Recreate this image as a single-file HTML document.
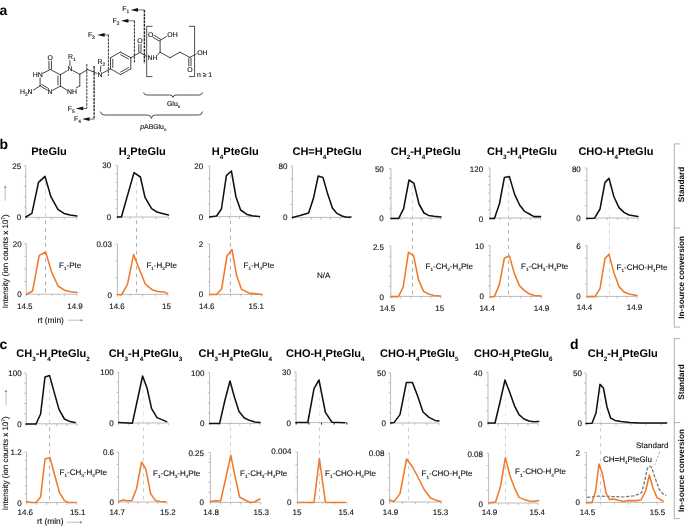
<!DOCTYPE html>
<html><head><meta charset="utf-8"><title>Figure</title><style>html,body{margin:0;padding:0;background:#fff}svg{display:block}</style></head><body>
<svg width="685" height="527" viewBox="0 0 685 527" text-rendering="geometricPrecision" font-family='"Liberation Sans", Arial, sans-serif'>
<rect width="685" height="527" fill="#fff"/>
<text x="-0.40" y="15.20" font-size="14.00" text-anchor="start" font-weight="bold" fill="#000" ><tspan dy="0.00" font-size="14.00">a</tspan></text>
<text x="-0.40" y="148.60" font-size="14.00" text-anchor="start" font-weight="bold" fill="#000" ><tspan dy="0.00" font-size="14.00">b</tspan></text>
<text x="-0.40" y="348.60" font-size="14.00" text-anchor="start" font-weight="bold" fill="#000" ><tspan dy="0.00" font-size="14.00">c</tspan></text>
<text x="570.10" y="348.60" font-size="14.00" text-anchor="start" font-weight="bold" fill="#000" ><tspan dy="0.00" font-size="14.00">d</tspan></text>
<text x="49.00" y="155.20" font-size="11.00" text-anchor="middle" font-weight="bold" fill="#000" ><tspan dy="0.00" font-size="11.00">PteGlu</tspan></text>
<text x="142.30" y="155.20" font-size="11.00" text-anchor="middle" font-weight="bold" fill="#000" ><tspan dy="0.00" font-size="11.00">H</tspan><tspan dy="3.41" font-size="6.30">2</tspan><tspan dy="-3.41" font-size="11.00">PteGlu</tspan></text>
<text x="235.30" y="155.20" font-size="11.00" text-anchor="middle" font-weight="bold" fill="#000" ><tspan dy="0.00" font-size="11.00">H</tspan><tspan dy="3.41" font-size="6.30">4</tspan><tspan dy="-3.41" font-size="11.00">PteGlu</tspan></text>
<text x="327.10" y="155.20" font-size="11.00" text-anchor="middle" font-weight="bold" fill="#000" ><tspan dy="0.00" font-size="11.00">CH=H</tspan><tspan dy="3.41" font-size="6.30">4</tspan><tspan dy="-3.41" font-size="11.00">PteGlu</tspan></text>
<text x="425.80" y="155.20" font-size="11.00" text-anchor="middle" font-weight="bold" fill="#000" ><tspan dy="0.00" font-size="11.00">CH</tspan><tspan dy="3.41" font-size="6.30">2</tspan><tspan dy="-3.41" font-size="11.00">-H</tspan><tspan dy="3.41" font-size="6.30">4</tspan><tspan dy="-3.41" font-size="11.00">PteGlu</tspan></text>
<text x="522.00" y="155.20" font-size="11.00" text-anchor="middle" font-weight="bold" fill="#000" ><tspan dy="0.00" font-size="11.00">CH</tspan><tspan dy="3.41" font-size="6.30">3</tspan><tspan dy="-3.41" font-size="11.00">-H</tspan><tspan dy="3.41" font-size="6.30">4</tspan><tspan dy="-3.41" font-size="11.00">PteGlu</tspan></text>
<text x="615.90" y="155.20" font-size="11.00" text-anchor="middle" font-weight="bold" fill="#000" ><tspan dy="0.00" font-size="11.00">CHO-H</tspan><tspan dy="3.41" font-size="6.30">4</tspan><tspan dy="-3.41" font-size="11.00">PteGlu</tspan></text>
<text x="53.00" y="357.30" font-size="11.00" text-anchor="middle" font-weight="bold" fill="#000" ><tspan dy="0.00" font-size="11.00">CH</tspan><tspan dy="3.41" font-size="6.30">3</tspan><tspan dy="-3.41" font-size="11.00">-H</tspan><tspan dy="3.41" font-size="6.30">4</tspan><tspan dy="-3.41" font-size="11.00">PteGlu</tspan><tspan dy="3.41" font-size="6.30">2</tspan></text>
<text x="145.40" y="357.30" font-size="11.00" text-anchor="middle" font-weight="bold" fill="#000" ><tspan dy="0.00" font-size="11.00">CH</tspan><tspan dy="3.41" font-size="6.30">3</tspan><tspan dy="-3.41" font-size="11.00">-H</tspan><tspan dy="3.41" font-size="6.30">4</tspan><tspan dy="-3.41" font-size="11.00">PteGlu</tspan><tspan dy="3.41" font-size="6.30">3</tspan></text>
<text x="235.30" y="357.30" font-size="11.00" text-anchor="middle" font-weight="bold" fill="#000" ><tspan dy="0.00" font-size="11.00">CH</tspan><tspan dy="3.41" font-size="6.30">3</tspan><tspan dy="-3.41" font-size="11.00">-H</tspan><tspan dy="3.41" font-size="6.30">4</tspan><tspan dy="-3.41" font-size="11.00">PteGlu</tspan><tspan dy="3.41" font-size="6.30">4</tspan></text>
<text x="325.30" y="357.30" font-size="11.00" text-anchor="middle" font-weight="bold" fill="#000" ><tspan dy="0.00" font-size="11.00">CHO-H</tspan><tspan dy="3.41" font-size="6.30">4</tspan><tspan dy="-3.41" font-size="11.00">PteGlu</tspan><tspan dy="3.41" font-size="6.30">4</tspan></text>
<text x="419.30" y="357.30" font-size="11.00" text-anchor="middle" font-weight="bold" fill="#000" ><tspan dy="0.00" font-size="11.00">CHO-H</tspan><tspan dy="3.41" font-size="6.30">4</tspan><tspan dy="-3.41" font-size="11.00">PteGlu</tspan><tspan dy="3.41" font-size="6.30">5</tspan></text>
<text x="513.30" y="357.30" font-size="11.00" text-anchor="middle" font-weight="bold" fill="#000" ><tspan dy="0.00" font-size="11.00">CHO-H</tspan><tspan dy="3.41" font-size="6.30">4</tspan><tspan dy="-3.41" font-size="11.00">PteGlu</tspan><tspan dy="3.41" font-size="6.30">6</tspan></text>
<text x="622.80" y="357.30" font-size="11.00" text-anchor="middle" font-weight="bold" fill="#000" ><tspan dy="0.00" font-size="11.00">CH</tspan><tspan dy="3.41" font-size="6.30">2</tspan><tspan dy="-3.41" font-size="11.00">-H</tspan><tspan dy="3.41" font-size="6.30">4</tspan><tspan dy="-3.41" font-size="11.00">PteGlu</tspan></text>
<line x1="45.50" y1="292.50" x2="45.50" y2="178.00" stroke="#6a6a6a" stroke-width="0.55" stroke-linecap="butt" stroke-dasharray="3.7 3.9"/>
<line x1="45.50" y1="177.00" x2="45.50" y2="217.50" stroke="#fff" stroke-width="1.60" stroke-linecap="butt" opacity="0.5"/>
<line x1="25.80" y1="165.80" x2="25.80" y2="217.80" stroke="#a9a9a9" stroke-width="0.80" stroke-linecap="butt"/>
<line x1="25.40" y1="217.40" x2="77.00" y2="217.40" stroke="#a9a9a9" stroke-width="0.80" stroke-linecap="butt"/>
<line x1="23.80" y1="165.80" x2="25.80" y2="165.80" stroke="#a9a9a9" stroke-width="0.70" stroke-linecap="butt"/>
<line x1="23.80" y1="176.12" x2="25.80" y2="176.12" stroke="#a9a9a9" stroke-width="0.70" stroke-linecap="butt"/>
<line x1="23.80" y1="186.44" x2="25.80" y2="186.44" stroke="#a9a9a9" stroke-width="0.70" stroke-linecap="butt"/>
<line x1="23.80" y1="196.76" x2="25.80" y2="196.76" stroke="#a9a9a9" stroke-width="0.70" stroke-linecap="butt"/>
<line x1="23.80" y1="207.08" x2="25.80" y2="207.08" stroke="#a9a9a9" stroke-width="0.70" stroke-linecap="butt"/>
<line x1="25.80" y1="217.40" x2="25.80" y2="219.60" stroke="#a9a9a9" stroke-width="0.70" stroke-linecap="butt"/>
<line x1="38.60" y1="217.40" x2="38.60" y2="219.60" stroke="#a9a9a9" stroke-width="0.70" stroke-linecap="butt"/>
<line x1="51.40" y1="217.40" x2="51.40" y2="219.60" stroke="#a9a9a9" stroke-width="0.70" stroke-linecap="butt"/>
<line x1="64.20" y1="217.40" x2="64.20" y2="219.60" stroke="#a9a9a9" stroke-width="0.70" stroke-linecap="butt"/>
<line x1="77.00" y1="217.40" x2="77.00" y2="219.60" stroke="#a9a9a9" stroke-width="0.70" stroke-linecap="butt"/>
<polyline points="25.8,217.0 31.9,213.4 38.5,182.4 45.0,176.4 50.9,196.7 57.9,209.4 64.0,213.4 70.2,215.1 76.9,216.0" fill="none" stroke="#111" stroke-width="1.55" stroke-linejoin="round" stroke-linecap="round"/>
<text x="21.20" y="168.90" font-size="8.00" text-anchor="end" font-weight="normal" fill="#111"  stroke="#111" stroke-width="0.12"><tspan dy="0.00" font-size="8.00">25</tspan></text>
<text x="21.20" y="220.44" font-size="8.00" text-anchor="end" font-weight="normal" fill="#111"  stroke="#111" stroke-width="0.12"><tspan dy="0.00" font-size="8.00">0</tspan></text>
<line x1="26.20" y1="243.60" x2="26.20" y2="294.60" stroke="#a9a9a9" stroke-width="0.80" stroke-linecap="butt"/>
<line x1="25.80" y1="294.20" x2="77.00" y2="294.20" stroke="#a9a9a9" stroke-width="0.80" stroke-linecap="butt"/>
<line x1="24.20" y1="243.60" x2="26.20" y2="243.60" stroke="#a9a9a9" stroke-width="0.70" stroke-linecap="butt"/>
<line x1="24.20" y1="256.25" x2="26.20" y2="256.25" stroke="#a9a9a9" stroke-width="0.70" stroke-linecap="butt"/>
<line x1="24.20" y1="268.90" x2="26.20" y2="268.90" stroke="#a9a9a9" stroke-width="0.70" stroke-linecap="butt"/>
<line x1="24.20" y1="281.55" x2="26.20" y2="281.55" stroke="#a9a9a9" stroke-width="0.70" stroke-linecap="butt"/>
<line x1="26.20" y1="294.20" x2="26.20" y2="296.40" stroke="#a9a9a9" stroke-width="0.70" stroke-linecap="butt"/>
<line x1="38.90" y1="294.20" x2="38.90" y2="296.40" stroke="#a9a9a9" stroke-width="0.70" stroke-linecap="butt"/>
<line x1="51.60" y1="294.20" x2="51.60" y2="296.40" stroke="#a9a9a9" stroke-width="0.70" stroke-linecap="butt"/>
<line x1="64.30" y1="294.20" x2="64.30" y2="296.40" stroke="#a9a9a9" stroke-width="0.70" stroke-linecap="butt"/>
<line x1="77.00" y1="294.20" x2="77.00" y2="296.40" stroke="#a9a9a9" stroke-width="0.70" stroke-linecap="butt"/>
<polyline points="26.6,294.2 32.6,291.0 39.2,255.4 45.6,252.0 51.6,272.0 58.0,286.0 64.4,290.2 70.6,291.8 77.0,292.4" fill="none" stroke="#ee7a2c" stroke-width="1.55" stroke-linejoin="round" stroke-linecap="round"/>
<text x="21.60" y="246.70" font-size="8.00" text-anchor="end" font-weight="normal" fill="#111"  stroke="#111" stroke-width="0.12"><tspan dy="0.00" font-size="8.00">20</tspan></text>
<text x="21.60" y="297.24" font-size="8.00" text-anchor="end" font-weight="normal" fill="#111"  stroke="#111" stroke-width="0.12"><tspan dy="0.00" font-size="8.00">0</tspan></text>
<text x="24.80" y="308.60" font-size="8.00" text-anchor="middle" font-weight="normal" fill="#111"  stroke="#111" stroke-width="0.12"><tspan dy="0.00" font-size="8.00">14.5</tspan></text>
<text x="75.00" y="308.60" font-size="8.00" text-anchor="middle" font-weight="normal" fill="#111"  stroke="#111" stroke-width="0.12"><tspan dy="0.00" font-size="8.00">14.9</tspan></text>
<text x="59.00" y="267.60" font-size="8.00" text-anchor="start" font-weight="normal" fill="#111"  stroke="#111" stroke-width="0.12"><tspan dy="0.00" font-size="8.00">F</tspan><tspan dy="2.32" font-size="4.64">1</tspan><tspan dy="-2.32" font-size="8.00">-Pte</tspan></text>
<line x1="136.50" y1="292.50" x2="136.50" y2="178.00" stroke="#6a6a6a" stroke-width="0.55" stroke-linecap="butt" stroke-dasharray="3.7 3.9"/>
<line x1="136.50" y1="177.00" x2="136.50" y2="217.50" stroke="#fff" stroke-width="1.60" stroke-linecap="butt" opacity="0.5"/>
<line x1="117.40" y1="165.20" x2="117.40" y2="217.40" stroke="#a9a9a9" stroke-width="0.80" stroke-linecap="butt"/>
<line x1="117.00" y1="217.00" x2="168.40" y2="217.00" stroke="#a9a9a9" stroke-width="0.80" stroke-linecap="butt"/>
<line x1="115.40" y1="165.20" x2="117.40" y2="165.20" stroke="#a9a9a9" stroke-width="0.70" stroke-linecap="butt"/>
<line x1="115.40" y1="173.83" x2="117.40" y2="173.83" stroke="#a9a9a9" stroke-width="0.70" stroke-linecap="butt"/>
<line x1="115.40" y1="182.47" x2="117.40" y2="182.47" stroke="#a9a9a9" stroke-width="0.70" stroke-linecap="butt"/>
<line x1="115.40" y1="191.10" x2="117.40" y2="191.10" stroke="#a9a9a9" stroke-width="0.70" stroke-linecap="butt"/>
<line x1="115.40" y1="199.73" x2="117.40" y2="199.73" stroke="#a9a9a9" stroke-width="0.70" stroke-linecap="butt"/>
<line x1="115.40" y1="208.37" x2="117.40" y2="208.37" stroke="#a9a9a9" stroke-width="0.70" stroke-linecap="butt"/>
<line x1="117.40" y1="217.00" x2="117.40" y2="219.20" stroke="#a9a9a9" stroke-width="0.70" stroke-linecap="butt"/>
<line x1="130.15" y1="217.00" x2="130.15" y2="219.20" stroke="#a9a9a9" stroke-width="0.70" stroke-linecap="butt"/>
<line x1="142.90" y1="217.00" x2="142.90" y2="219.20" stroke="#a9a9a9" stroke-width="0.70" stroke-linecap="butt"/>
<line x1="155.65" y1="217.00" x2="155.65" y2="219.20" stroke="#a9a9a9" stroke-width="0.70" stroke-linecap="butt"/>
<line x1="168.40" y1="217.00" x2="168.40" y2="219.20" stroke="#a9a9a9" stroke-width="0.70" stroke-linecap="butt"/>
<polyline points="117.4,217.0 121.4,217.0 134.0,172.6 140.4,177.0 145.0,197.4 151.6,208.6 157.0,212.0 162.4,213.6 168.4,215.0" fill="none" stroke="#111" stroke-width="1.55" stroke-linejoin="round" stroke-linecap="round"/>
<text x="111.20" y="168.30" font-size="8.00" text-anchor="end" font-weight="normal" fill="#111"  stroke="#111" stroke-width="0.12"><tspan dy="0.00" font-size="8.00">30</tspan></text>
<text x="111.20" y="220.04" font-size="8.00" text-anchor="end" font-weight="normal" fill="#111"  stroke="#111" stroke-width="0.12"><tspan dy="0.00" font-size="8.00">0</tspan></text>
<line x1="117.40" y1="244.00" x2="117.40" y2="294.80" stroke="#a9a9a9" stroke-width="0.80" stroke-linecap="butt"/>
<line x1="117.00" y1="294.40" x2="168.00" y2="294.40" stroke="#a9a9a9" stroke-width="0.80" stroke-linecap="butt"/>
<line x1="115.40" y1="244.00" x2="117.40" y2="244.00" stroke="#a9a9a9" stroke-width="0.70" stroke-linecap="butt"/>
<line x1="115.40" y1="260.80" x2="117.40" y2="260.80" stroke="#a9a9a9" stroke-width="0.70" stroke-linecap="butt"/>
<line x1="115.40" y1="277.60" x2="117.40" y2="277.60" stroke="#a9a9a9" stroke-width="0.70" stroke-linecap="butt"/>
<line x1="117.40" y1="294.40" x2="117.40" y2="296.60" stroke="#a9a9a9" stroke-width="0.70" stroke-linecap="butt"/>
<line x1="130.05" y1="294.40" x2="130.05" y2="296.60" stroke="#a9a9a9" stroke-width="0.70" stroke-linecap="butt"/>
<line x1="142.70" y1="294.40" x2="142.70" y2="296.60" stroke="#a9a9a9" stroke-width="0.70" stroke-linecap="butt"/>
<line x1="155.35" y1="294.40" x2="155.35" y2="296.60" stroke="#a9a9a9" stroke-width="0.70" stroke-linecap="butt"/>
<line x1="168.00" y1="294.40" x2="168.00" y2="296.60" stroke="#a9a9a9" stroke-width="0.70" stroke-linecap="butt"/>
<polyline points="117.4,294.4 121.4,295.0 127.4,284.6 133.6,254.6 139.6,270.0 145.4,284.2 151.6,289.4 157.6,291.4 164.0,292.0 167.6,293.4" fill="none" stroke="#ee7a2c" stroke-width="1.55" stroke-linejoin="round" stroke-linecap="round"/>
<text x="112.00" y="247.40" font-size="8.00" text-anchor="end" font-weight="normal" fill="#111"  stroke="#111" stroke-width="0.12"><tspan dy="0.00" font-size="8.00">0.03</tspan></text>
<text x="112.00" y="297.65" font-size="8.00" text-anchor="end" font-weight="normal" fill="#111"  stroke="#111" stroke-width="0.12"><tspan dy="0.00" font-size="8.00">0</tspan></text>
<text x="117.00" y="308.60" font-size="8.00" text-anchor="middle" font-weight="normal" fill="#111"  stroke="#111" stroke-width="0.12"><tspan dy="0.00" font-size="8.00">14.6</tspan></text>
<text x="166.50" y="308.60" font-size="8.00" text-anchor="middle" font-weight="normal" fill="#111"  stroke="#111" stroke-width="0.12"><tspan dy="0.00" font-size="8.00">15</tspan></text>
<text x="146.40" y="267.60" font-size="8.00" text-anchor="start" font-weight="normal" fill="#111"  stroke="#111" stroke-width="0.12"><tspan dy="0.00" font-size="8.00">F</tspan><tspan dy="2.32" font-size="4.64">1</tspan><tspan dy="-2.32" font-size="8.00">-H</tspan><tspan dy="2.32" font-size="4.64">2</tspan><tspan dy="-2.32" font-size="8.00">Pte</tspan></text>
<line x1="230.50" y1="292.50" x2="230.50" y2="172.00" stroke="#6a6a6a" stroke-width="0.55" stroke-linecap="butt" stroke-dasharray="3.7 3.9"/>
<line x1="230.50" y1="171.00" x2="230.50" y2="217.50" stroke="#fff" stroke-width="1.60" stroke-linecap="butt" opacity="0.5"/>
<line x1="209.60" y1="166.00" x2="209.60" y2="217.00" stroke="#a9a9a9" stroke-width="0.80" stroke-linecap="butt"/>
<line x1="209.20" y1="216.60" x2="259.40" y2="216.60" stroke="#a9a9a9" stroke-width="0.80" stroke-linecap="butt"/>
<line x1="207.60" y1="166.00" x2="209.60" y2="166.00" stroke="#a9a9a9" stroke-width="0.70" stroke-linecap="butt"/>
<line x1="207.60" y1="178.65" x2="209.60" y2="178.65" stroke="#a9a9a9" stroke-width="0.70" stroke-linecap="butt"/>
<line x1="207.60" y1="191.30" x2="209.60" y2="191.30" stroke="#a9a9a9" stroke-width="0.70" stroke-linecap="butt"/>
<line x1="207.60" y1="203.95" x2="209.60" y2="203.95" stroke="#a9a9a9" stroke-width="0.70" stroke-linecap="butt"/>
<line x1="209.60" y1="216.60" x2="209.60" y2="218.80" stroke="#a9a9a9" stroke-width="0.70" stroke-linecap="butt"/>
<line x1="219.56" y1="216.60" x2="219.56" y2="218.80" stroke="#a9a9a9" stroke-width="0.70" stroke-linecap="butt"/>
<line x1="229.52" y1="216.60" x2="229.52" y2="218.80" stroke="#a9a9a9" stroke-width="0.70" stroke-linecap="butt"/>
<line x1="239.48" y1="216.60" x2="239.48" y2="218.80" stroke="#a9a9a9" stroke-width="0.70" stroke-linecap="butt"/>
<line x1="249.44" y1="216.60" x2="249.44" y2="218.80" stroke="#a9a9a9" stroke-width="0.70" stroke-linecap="butt"/>
<line x1="259.40" y1="216.60" x2="259.40" y2="218.80" stroke="#a9a9a9" stroke-width="0.70" stroke-linecap="butt"/>
<polyline points="209.6,217.0 216.6,216.0 221.4,209.0 226.4,175.6 231.4,171.0 236.0,197.0 240.6,210.0 247.0,214.4 252.0,215.8 259.4,216.6" fill="none" stroke="#111" stroke-width="1.55" stroke-linejoin="round" stroke-linecap="round"/>
<text x="203.20" y="169.10" font-size="8.00" text-anchor="end" font-weight="normal" fill="#111"  stroke="#111" stroke-width="0.12"><tspan dy="0.00" font-size="8.00">20</tspan></text>
<text x="203.20" y="219.64" font-size="8.00" text-anchor="end" font-weight="normal" fill="#111"  stroke="#111" stroke-width="0.12"><tspan dy="0.00" font-size="8.00">0</tspan></text>
<line x1="209.60" y1="244.00" x2="209.60" y2="294.80" stroke="#a9a9a9" stroke-width="0.80" stroke-linecap="butt"/>
<line x1="209.20" y1="294.40" x2="262.00" y2="294.40" stroke="#a9a9a9" stroke-width="0.80" stroke-linecap="butt"/>
<line x1="207.60" y1="244.00" x2="209.60" y2="244.00" stroke="#a9a9a9" stroke-width="0.70" stroke-linecap="butt"/>
<line x1="207.60" y1="256.60" x2="209.60" y2="256.60" stroke="#a9a9a9" stroke-width="0.70" stroke-linecap="butt"/>
<line x1="207.60" y1="269.20" x2="209.60" y2="269.20" stroke="#a9a9a9" stroke-width="0.70" stroke-linecap="butt"/>
<line x1="207.60" y1="281.80" x2="209.60" y2="281.80" stroke="#a9a9a9" stroke-width="0.70" stroke-linecap="butt"/>
<line x1="209.60" y1="294.40" x2="209.60" y2="296.60" stroke="#a9a9a9" stroke-width="0.70" stroke-linecap="butt"/>
<line x1="220.08" y1="294.40" x2="220.08" y2="296.60" stroke="#a9a9a9" stroke-width="0.70" stroke-linecap="butt"/>
<line x1="230.56" y1="294.40" x2="230.56" y2="296.60" stroke="#a9a9a9" stroke-width="0.70" stroke-linecap="butt"/>
<line x1="241.04" y1="294.40" x2="241.04" y2="296.60" stroke="#a9a9a9" stroke-width="0.70" stroke-linecap="butt"/>
<line x1="251.52" y1="294.40" x2="251.52" y2="296.60" stroke="#a9a9a9" stroke-width="0.70" stroke-linecap="butt"/>
<line x1="262.00" y1="294.40" x2="262.00" y2="296.60" stroke="#a9a9a9" stroke-width="0.70" stroke-linecap="butt"/>
<polyline points="209.6,294.4 216.6,294.4 221.6,289.0 227.0,256.0 232.0,249.6 236.6,275.6 241.6,289.4 249.0,293.0 262.0,294.6" fill="none" stroke="#ee7a2c" stroke-width="1.55" stroke-linejoin="round" stroke-linecap="round"/>
<text x="203.20" y="247.10" font-size="8.00" text-anchor="end" font-weight="normal" fill="#111"  stroke="#111" stroke-width="0.12"><tspan dy="0.00" font-size="8.00">2</tspan></text>
<text x="203.20" y="297.44" font-size="8.00" text-anchor="end" font-weight="normal" fill="#111"  stroke="#111" stroke-width="0.12"><tspan dy="0.00" font-size="8.00">0</tspan></text>
<text x="206.80" y="308.60" font-size="8.00" text-anchor="middle" font-weight="normal" fill="#111"  stroke="#111" stroke-width="0.12"><tspan dy="0.00" font-size="8.00">14.6</tspan></text>
<text x="256.30" y="308.60" font-size="8.00" text-anchor="middle" font-weight="normal" fill="#111"  stroke="#111" stroke-width="0.12"><tspan dy="0.00" font-size="8.00">15.1</tspan></text>
<text x="243.60" y="267.60" font-size="8.00" text-anchor="start" font-weight="normal" fill="#111"  stroke="#111" stroke-width="0.12"><tspan dy="0.00" font-size="8.00">F</tspan><tspan dy="2.32" font-size="4.64">1</tspan><tspan dy="-2.32" font-size="8.00">-H</tspan><tspan dy="2.32" font-size="4.64">4</tspan><tspan dy="-2.32" font-size="8.00">Pte</tspan></text>
<line x1="292.40" y1="166.00" x2="292.40" y2="217.80" stroke="#a9a9a9" stroke-width="0.80" stroke-linecap="butt"/>
<line x1="292.00" y1="217.40" x2="351.00" y2="217.40" stroke="#a9a9a9" stroke-width="0.80" stroke-linecap="butt"/>
<line x1="290.40" y1="166.00" x2="292.40" y2="166.00" stroke="#a9a9a9" stroke-width="0.70" stroke-linecap="butt"/>
<line x1="290.40" y1="178.85" x2="292.40" y2="178.85" stroke="#a9a9a9" stroke-width="0.70" stroke-linecap="butt"/>
<line x1="290.40" y1="191.70" x2="292.40" y2="191.70" stroke="#a9a9a9" stroke-width="0.70" stroke-linecap="butt"/>
<line x1="290.40" y1="204.55" x2="292.40" y2="204.55" stroke="#a9a9a9" stroke-width="0.70" stroke-linecap="butt"/>
<line x1="292.40" y1="217.40" x2="292.40" y2="219.60" stroke="#a9a9a9" stroke-width="0.70" stroke-linecap="butt"/>
<line x1="301.90" y1="217.40" x2="301.90" y2="219.60" stroke="#a9a9a9" stroke-width="0.70" stroke-linecap="butt"/>
<line x1="311.40" y1="217.40" x2="311.40" y2="219.60" stroke="#a9a9a9" stroke-width="0.70" stroke-linecap="butt"/>
<line x1="320.90" y1="217.40" x2="320.90" y2="219.60" stroke="#a9a9a9" stroke-width="0.70" stroke-linecap="butt"/>
<line x1="330.40" y1="217.40" x2="330.40" y2="219.60" stroke="#a9a9a9" stroke-width="0.70" stroke-linecap="butt"/>
<line x1="339.90" y1="217.40" x2="339.90" y2="219.60" stroke="#a9a9a9" stroke-width="0.70" stroke-linecap="butt"/>
<line x1="349.40" y1="217.40" x2="349.40" y2="219.60" stroke="#a9a9a9" stroke-width="0.70" stroke-linecap="butt"/>
<polyline points="292.4,217.6 300.0,215.6 308.6,213.0 313.4,198.6 318.2,176.0 323.0,177.6 327.4,193.0 332.4,208.0 337.0,213.4 342.0,216.0 346.6,217.2 351.0,217.0" fill="none" stroke="#111" stroke-width="1.55" stroke-linejoin="round" stroke-linecap="round"/>
<text x="287.40" y="169.10" font-size="8.00" text-anchor="end" font-weight="normal" fill="#111"  stroke="#111" stroke-width="0.12"><tspan dy="0.00" font-size="8.00">80</tspan></text>
<text x="287.40" y="220.44" font-size="8.00" text-anchor="end" font-weight="normal" fill="#111"  stroke="#111" stroke-width="0.12"><tspan dy="0.00" font-size="8.00">0</tspan></text>
<text x="323.60" y="278.00" font-size="8.00" text-anchor="middle" font-weight="normal" fill="#111"  stroke="#111" stroke-width="0.12"><tspan dy="0.00" font-size="8.00">N/A</tspan></text>
<line x1="412.50" y1="294.50" x2="412.50" y2="183.00" stroke="#6a6a6a" stroke-width="0.55" stroke-linecap="butt" stroke-dasharray="3.7 3.9"/>
<line x1="412.50" y1="182.00" x2="412.50" y2="217.50" stroke="#fff" stroke-width="1.60" stroke-linecap="butt" opacity="0.5"/>
<line x1="391.00" y1="168.60" x2="391.00" y2="218.40" stroke="#a9a9a9" stroke-width="0.80" stroke-linecap="butt"/>
<line x1="390.60" y1="218.00" x2="441.00" y2="218.00" stroke="#a9a9a9" stroke-width="0.80" stroke-linecap="butt"/>
<line x1="389.00" y1="168.60" x2="391.00" y2="168.60" stroke="#a9a9a9" stroke-width="0.70" stroke-linecap="butt"/>
<line x1="389.00" y1="178.48" x2="391.00" y2="178.48" stroke="#a9a9a9" stroke-width="0.70" stroke-linecap="butt"/>
<line x1="389.00" y1="188.36" x2="391.00" y2="188.36" stroke="#a9a9a9" stroke-width="0.70" stroke-linecap="butt"/>
<line x1="389.00" y1="198.24" x2="391.00" y2="198.24" stroke="#a9a9a9" stroke-width="0.70" stroke-linecap="butt"/>
<line x1="389.00" y1="208.12" x2="391.00" y2="208.12" stroke="#a9a9a9" stroke-width="0.70" stroke-linecap="butt"/>
<line x1="391.00" y1="218.00" x2="391.00" y2="220.20" stroke="#a9a9a9" stroke-width="0.70" stroke-linecap="butt"/>
<line x1="401.00" y1="218.00" x2="401.00" y2="220.20" stroke="#a9a9a9" stroke-width="0.70" stroke-linecap="butt"/>
<line x1="411.00" y1="218.00" x2="411.00" y2="220.20" stroke="#a9a9a9" stroke-width="0.70" stroke-linecap="butt"/>
<line x1="421.00" y1="218.00" x2="421.00" y2="220.20" stroke="#a9a9a9" stroke-width="0.70" stroke-linecap="butt"/>
<line x1="431.00" y1="218.00" x2="431.00" y2="220.20" stroke="#a9a9a9" stroke-width="0.70" stroke-linecap="butt"/>
<line x1="441.00" y1="218.00" x2="441.00" y2="220.20" stroke="#a9a9a9" stroke-width="0.70" stroke-linecap="butt"/>
<polyline points="391.0,218.4 398.6,218.6 403.6,208.6 409.0,180.0 414.0,183.4 419.0,204.0 424.0,213.0 428.6,215.4 434.0,216.2 441.0,217.0" fill="none" stroke="#111" stroke-width="1.55" stroke-linejoin="round" stroke-linecap="round"/>
<text x="383.80" y="172.30" font-size="8.00" text-anchor="end" font-weight="normal" fill="#111"  stroke="#111" stroke-width="0.12"><tspan dy="0.00" font-size="8.00">50</tspan></text>
<text x="383.80" y="221.46" font-size="8.00" text-anchor="end" font-weight="normal" fill="#111"  stroke="#111" stroke-width="0.12"><tspan dy="0.00" font-size="8.00">0</tspan></text>
<line x1="390.80" y1="246.00" x2="390.80" y2="296.80" stroke="#a9a9a9" stroke-width="0.80" stroke-linecap="butt"/>
<line x1="390.40" y1="296.40" x2="440.80" y2="296.40" stroke="#a9a9a9" stroke-width="0.80" stroke-linecap="butt"/>
<line x1="388.80" y1="246.00" x2="390.80" y2="246.00" stroke="#a9a9a9" stroke-width="0.70" stroke-linecap="butt"/>
<line x1="388.80" y1="256.08" x2="390.80" y2="256.08" stroke="#a9a9a9" stroke-width="0.70" stroke-linecap="butt"/>
<line x1="388.80" y1="266.16" x2="390.80" y2="266.16" stroke="#a9a9a9" stroke-width="0.70" stroke-linecap="butt"/>
<line x1="388.80" y1="276.24" x2="390.80" y2="276.24" stroke="#a9a9a9" stroke-width="0.70" stroke-linecap="butt"/>
<line x1="388.80" y1="286.32" x2="390.80" y2="286.32" stroke="#a9a9a9" stroke-width="0.70" stroke-linecap="butt"/>
<line x1="390.80" y1="296.40" x2="390.80" y2="298.60" stroke="#a9a9a9" stroke-width="0.70" stroke-linecap="butt"/>
<line x1="400.80" y1="296.40" x2="400.80" y2="298.60" stroke="#a9a9a9" stroke-width="0.70" stroke-linecap="butt"/>
<line x1="410.80" y1="296.40" x2="410.80" y2="298.60" stroke="#a9a9a9" stroke-width="0.70" stroke-linecap="butt"/>
<line x1="420.80" y1="296.40" x2="420.80" y2="298.60" stroke="#a9a9a9" stroke-width="0.70" stroke-linecap="butt"/>
<line x1="430.80" y1="296.40" x2="430.80" y2="298.60" stroke="#a9a9a9" stroke-width="0.70" stroke-linecap="butt"/>
<line x1="440.80" y1="296.40" x2="440.80" y2="298.60" stroke="#a9a9a9" stroke-width="0.70" stroke-linecap="butt"/>
<polyline points="390.6,296.6 398.4,296.6 403.2,287.0 408.4,252.4 413.6,255.6 418.4,279.4 423.6,291.4 428.6,294.0 434.0,295.4 440.6,296.0" fill="none" stroke="#ee7a2c" stroke-width="1.55" stroke-linejoin="round" stroke-linecap="round"/>
<text x="384.00" y="249.80" font-size="8.00" text-anchor="end" font-weight="normal" fill="#111"  stroke="#111" stroke-width="0.12"><tspan dy="0.00" font-size="8.00">2.5</tspan></text>
<text x="384.00" y="299.93" font-size="8.00" text-anchor="end" font-weight="normal" fill="#111"  stroke="#111" stroke-width="0.12"><tspan dy="0.00" font-size="8.00">0</tspan></text>
<text x="387.50" y="310.60" font-size="8.00" text-anchor="middle" font-weight="normal" fill="#111"  stroke="#111" stroke-width="0.12"><tspan dy="0.00" font-size="8.00">14.5</tspan></text>
<text x="439.80" y="310.60" font-size="8.00" text-anchor="middle" font-weight="normal" fill="#111"  stroke="#111" stroke-width="0.12"><tspan dy="0.00" font-size="8.00">15</tspan></text>
<text x="425.60" y="268.80" font-size="8.00" text-anchor="start" font-weight="normal" fill="#111"  stroke="#111" stroke-width="0.12"><tspan dy="0.00" font-size="8.00">F</tspan><tspan dy="2.32" font-size="4.64">1</tspan><tspan dy="-2.32" font-size="8.00">-CH</tspan><tspan dy="2.32" font-size="4.64">2</tspan><tspan dy="-2.32" font-size="8.00">-H</tspan><tspan dy="2.32" font-size="4.64">4</tspan><tspan dy="-2.32" font-size="8.00">Pte</tspan></text>
<line x1="508.50" y1="294.50" x2="508.50" y2="178.00" stroke="#6a6a6a" stroke-width="0.55" stroke-linecap="butt" stroke-dasharray="3.7 3.9"/>
<line x1="508.50" y1="177.00" x2="508.50" y2="217.50" stroke="#fff" stroke-width="1.60" stroke-linecap="butt" opacity="0.5"/>
<line x1="490.00" y1="168.00" x2="490.00" y2="218.40" stroke="#a9a9a9" stroke-width="0.80" stroke-linecap="butt"/>
<line x1="489.60" y1="218.00" x2="540.60" y2="218.00" stroke="#a9a9a9" stroke-width="0.80" stroke-linecap="butt"/>
<line x1="488.00" y1="168.00" x2="490.00" y2="168.00" stroke="#a9a9a9" stroke-width="0.70" stroke-linecap="butt"/>
<line x1="488.00" y1="176.33" x2="490.00" y2="176.33" stroke="#a9a9a9" stroke-width="0.70" stroke-linecap="butt"/>
<line x1="488.00" y1="184.67" x2="490.00" y2="184.67" stroke="#a9a9a9" stroke-width="0.70" stroke-linecap="butt"/>
<line x1="488.00" y1="193.00" x2="490.00" y2="193.00" stroke="#a9a9a9" stroke-width="0.70" stroke-linecap="butt"/>
<line x1="488.00" y1="201.33" x2="490.00" y2="201.33" stroke="#a9a9a9" stroke-width="0.70" stroke-linecap="butt"/>
<line x1="488.00" y1="209.67" x2="490.00" y2="209.67" stroke="#a9a9a9" stroke-width="0.70" stroke-linecap="butt"/>
<line x1="490.00" y1="218.00" x2="490.00" y2="220.20" stroke="#a9a9a9" stroke-width="0.70" stroke-linecap="butt"/>
<line x1="500.12" y1="218.00" x2="500.12" y2="220.20" stroke="#a9a9a9" stroke-width="0.70" stroke-linecap="butt"/>
<line x1="510.24" y1="218.00" x2="510.24" y2="220.20" stroke="#a9a9a9" stroke-width="0.70" stroke-linecap="butt"/>
<line x1="520.36" y1="218.00" x2="520.36" y2="220.20" stroke="#a9a9a9" stroke-width="0.70" stroke-linecap="butt"/>
<line x1="530.48" y1="218.00" x2="530.48" y2="220.20" stroke="#a9a9a9" stroke-width="0.70" stroke-linecap="butt"/>
<line x1="540.60" y1="218.00" x2="540.60" y2="220.20" stroke="#a9a9a9" stroke-width="0.70" stroke-linecap="butt"/>
<polyline points="490.0,218.6 494.4,218.4 499.4,204.0 504.4,177.4 509.4,176.6 514.6,194.4 519.6,205.0 524.6,211.4 529.4,214.0 534.0,216.6 540.6,216.6" fill="none" stroke="#111" stroke-width="1.55" stroke-linejoin="round" stroke-linecap="round"/>
<text x="483.20" y="171.80" font-size="8.00" text-anchor="end" font-weight="normal" fill="#111"  stroke="#111" stroke-width="0.12"><tspan dy="0.00" font-size="8.00">120</tspan></text>
<text x="483.20" y="221.53" font-size="8.00" text-anchor="end" font-weight="normal" fill="#111"  stroke="#111" stroke-width="0.12"><tspan dy="0.00" font-size="8.00">0</tspan></text>
<line x1="490.00" y1="245.60" x2="490.00" y2="296.80" stroke="#a9a9a9" stroke-width="0.80" stroke-linecap="butt"/>
<line x1="489.60" y1="296.40" x2="541.40" y2="296.40" stroke="#a9a9a9" stroke-width="0.80" stroke-linecap="butt"/>
<line x1="488.00" y1="245.60" x2="490.00" y2="245.60" stroke="#a9a9a9" stroke-width="0.70" stroke-linecap="butt"/>
<line x1="488.00" y1="255.76" x2="490.00" y2="255.76" stroke="#a9a9a9" stroke-width="0.70" stroke-linecap="butt"/>
<line x1="488.00" y1="265.92" x2="490.00" y2="265.92" stroke="#a9a9a9" stroke-width="0.70" stroke-linecap="butt"/>
<line x1="488.00" y1="276.08" x2="490.00" y2="276.08" stroke="#a9a9a9" stroke-width="0.70" stroke-linecap="butt"/>
<line x1="488.00" y1="286.24" x2="490.00" y2="286.24" stroke="#a9a9a9" stroke-width="0.70" stroke-linecap="butt"/>
<line x1="490.00" y1="296.40" x2="490.00" y2="298.60" stroke="#a9a9a9" stroke-width="0.70" stroke-linecap="butt"/>
<line x1="500.28" y1="296.40" x2="500.28" y2="298.60" stroke="#a9a9a9" stroke-width="0.70" stroke-linecap="butt"/>
<line x1="510.56" y1="296.40" x2="510.56" y2="298.60" stroke="#a9a9a9" stroke-width="0.70" stroke-linecap="butt"/>
<line x1="520.84" y1="296.40" x2="520.84" y2="298.60" stroke="#a9a9a9" stroke-width="0.70" stroke-linecap="butt"/>
<line x1="531.12" y1="296.40" x2="531.12" y2="298.60" stroke="#a9a9a9" stroke-width="0.70" stroke-linecap="butt"/>
<line x1="541.40" y1="296.40" x2="541.40" y2="298.60" stroke="#a9a9a9" stroke-width="0.70" stroke-linecap="butt"/>
<polyline points="490.0,297.0 494.4,296.6 499.4,284.4 504.4,258.0 509.4,256.0 514.4,273.6 519.4,285.6 524.4,290.6 529.4,294.0 534.4,295.4 541.4,296.0" fill="none" stroke="#ee7a2c" stroke-width="1.55" stroke-linejoin="round" stroke-linecap="round"/>
<text x="484.00" y="248.70" font-size="8.00" text-anchor="end" font-weight="normal" fill="#111"  stroke="#111" stroke-width="0.12"><tspan dy="0.00" font-size="8.00">10</tspan></text>
<text x="484.00" y="299.44" font-size="8.00" text-anchor="end" font-weight="normal" fill="#111"  stroke="#111" stroke-width="0.12"><tspan dy="0.00" font-size="8.00">0</tspan></text>
<text x="487.20" y="310.80" font-size="8.00" text-anchor="middle" font-weight="normal" fill="#111"  stroke="#111" stroke-width="0.12"><tspan dy="0.00" font-size="8.00">14.4</tspan></text>
<text x="541.50" y="310.80" font-size="8.00" text-anchor="middle" font-weight="normal" fill="#111"  stroke="#111" stroke-width="0.12"><tspan dy="0.00" font-size="8.00">14.9</tspan></text>
<text x="521.00" y="268.80" font-size="8.00" text-anchor="start" font-weight="normal" fill="#111"  stroke="#111" stroke-width="0.12"><tspan dy="0.00" font-size="8.00">F</tspan><tspan dy="2.32" font-size="4.64">1</tspan><tspan dy="-2.32" font-size="8.00">-CH</tspan><tspan dy="2.32" font-size="4.64">3</tspan><tspan dy="-2.32" font-size="8.00">-H</tspan><tspan dy="2.32" font-size="4.64">4</tspan><tspan dy="-2.32" font-size="8.00">Pte</tspan></text>
<line x1="609.50" y1="294.50" x2="609.50" y2="180.00" stroke="#b5b5b5" stroke-width="0.55" stroke-linecap="butt" stroke-dasharray="3.7 3.9"/>
<line x1="609.50" y1="179.00" x2="609.50" y2="217.50" stroke="#fff" stroke-width="1.60" stroke-linecap="butt" opacity="0.5"/>
<line x1="586.80" y1="168.00" x2="586.80" y2="218.40" stroke="#a9a9a9" stroke-width="0.80" stroke-linecap="butt"/>
<line x1="586.40" y1="218.00" x2="638.00" y2="218.00" stroke="#a9a9a9" stroke-width="0.80" stroke-linecap="butt"/>
<line x1="584.80" y1="168.00" x2="586.80" y2="168.00" stroke="#a9a9a9" stroke-width="0.70" stroke-linecap="butt"/>
<line x1="584.80" y1="180.50" x2="586.80" y2="180.50" stroke="#a9a9a9" stroke-width="0.70" stroke-linecap="butt"/>
<line x1="584.80" y1="193.00" x2="586.80" y2="193.00" stroke="#a9a9a9" stroke-width="0.70" stroke-linecap="butt"/>
<line x1="584.80" y1="205.50" x2="586.80" y2="205.50" stroke="#a9a9a9" stroke-width="0.70" stroke-linecap="butt"/>
<line x1="586.80" y1="218.00" x2="586.80" y2="220.20" stroke="#a9a9a9" stroke-width="0.70" stroke-linecap="butt"/>
<line x1="597.04" y1="218.00" x2="597.04" y2="220.20" stroke="#a9a9a9" stroke-width="0.70" stroke-linecap="butt"/>
<line x1="607.28" y1="218.00" x2="607.28" y2="220.20" stroke="#a9a9a9" stroke-width="0.70" stroke-linecap="butt"/>
<line x1="617.52" y1="218.00" x2="617.52" y2="220.20" stroke="#a9a9a9" stroke-width="0.70" stroke-linecap="butt"/>
<line x1="627.76" y1="218.00" x2="627.76" y2="220.20" stroke="#a9a9a9" stroke-width="0.70" stroke-linecap="butt"/>
<line x1="638.00" y1="218.00" x2="638.00" y2="220.20" stroke="#a9a9a9" stroke-width="0.70" stroke-linecap="butt"/>
<polyline points="586.6,218.4 594.6,218.2 600.0,209.0 605.0,182.4 609.0,178.4 614.0,197.0 619.0,207.6 624.0,212.4 629.0,215.0 638.0,216.4" fill="none" stroke="#111" stroke-width="1.55" stroke-linejoin="round" stroke-linecap="round"/>
<text x="580.80" y="171.50" font-size="8.00" text-anchor="end" font-weight="normal" fill="#111"  stroke="#111" stroke-width="0.12"><tspan dy="0.00" font-size="8.00">80</tspan></text>
<text x="580.80" y="221.32" font-size="8.00" text-anchor="end" font-weight="normal" fill="#111"  stroke="#111" stroke-width="0.12"><tspan dy="0.00" font-size="8.00">0</tspan></text>
<line x1="587.00" y1="245.60" x2="587.00" y2="296.80" stroke="#a9a9a9" stroke-width="0.80" stroke-linecap="butt"/>
<line x1="586.60" y1="296.40" x2="637.00" y2="296.40" stroke="#a9a9a9" stroke-width="0.80" stroke-linecap="butt"/>
<line x1="585.00" y1="245.60" x2="587.00" y2="245.60" stroke="#a9a9a9" stroke-width="0.70" stroke-linecap="butt"/>
<line x1="585.00" y1="258.30" x2="587.00" y2="258.30" stroke="#a9a9a9" stroke-width="0.70" stroke-linecap="butt"/>
<line x1="585.00" y1="271.00" x2="587.00" y2="271.00" stroke="#a9a9a9" stroke-width="0.70" stroke-linecap="butt"/>
<line x1="585.00" y1="283.70" x2="587.00" y2="283.70" stroke="#a9a9a9" stroke-width="0.70" stroke-linecap="butt"/>
<line x1="587.00" y1="296.40" x2="587.00" y2="298.60" stroke="#a9a9a9" stroke-width="0.70" stroke-linecap="butt"/>
<line x1="597.00" y1="296.40" x2="597.00" y2="298.60" stroke="#a9a9a9" stroke-width="0.70" stroke-linecap="butt"/>
<line x1="607.00" y1="296.40" x2="607.00" y2="298.60" stroke="#a9a9a9" stroke-width="0.70" stroke-linecap="butt"/>
<line x1="617.00" y1="296.40" x2="617.00" y2="298.60" stroke="#a9a9a9" stroke-width="0.70" stroke-linecap="butt"/>
<line x1="627.00" y1="296.40" x2="627.00" y2="298.60" stroke="#a9a9a9" stroke-width="0.70" stroke-linecap="butt"/>
<line x1="637.00" y1="296.40" x2="637.00" y2="298.60" stroke="#a9a9a9" stroke-width="0.70" stroke-linecap="butt"/>
<polyline points="587.0,296.6 595.0,296.6 600.0,288.6 605.0,258.4 609.0,254.4 614.0,273.0 619.0,286.6 624.0,292.0 629.0,294.0 637.0,295.6" fill="none" stroke="#ee7a2c" stroke-width="1.55" stroke-linejoin="round" stroke-linecap="round"/>
<text x="580.80" y="248.70" font-size="8.00" text-anchor="end" font-weight="normal" fill="#111"  stroke="#111" stroke-width="0.12"><tspan dy="0.00" font-size="8.00">6</tspan></text>
<text x="580.80" y="299.44" font-size="8.00" text-anchor="end" font-weight="normal" fill="#111"  stroke="#111" stroke-width="0.12"><tspan dy="0.00" font-size="8.00">0</tspan></text>
<text x="584.50" y="310.40" font-size="8.00" text-anchor="middle" font-weight="normal" fill="#111"  stroke="#111" stroke-width="0.12"><tspan dy="0.00" font-size="8.00">14.4</tspan></text>
<text x="634.50" y="310.40" font-size="8.00" text-anchor="middle" font-weight="normal" fill="#111"  stroke="#111" stroke-width="0.12"><tspan dy="0.00" font-size="8.00">14.9</tspan></text>
<text x="616.60" y="270.00" font-size="8.00" text-anchor="start" font-weight="normal" fill="#111"  stroke="#111" stroke-width="0.12"><tspan dy="0.00" font-size="8.00">F</tspan><tspan dy="2.32" font-size="4.64">1</tspan><tspan dy="-2.32" font-size="8.00">-CHO-H</tspan><tspan dy="2.32" font-size="4.64">4</tspan><tspan dy="-2.32" font-size="8.00">Pte</tspan></text>
<line x1="49.50" y1="499.50" x2="49.50" y2="377.00" stroke="#6a6a6a" stroke-width="0.55" stroke-linecap="butt" stroke-dasharray="3.7 3.9"/>
<line x1="49.50" y1="376.00" x2="49.50" y2="423.20" stroke="#fff" stroke-width="1.60" stroke-linecap="butt" opacity="0.5"/>
<line x1="26.20" y1="373.00" x2="26.20" y2="424.20" stroke="#a9a9a9" stroke-width="0.80" stroke-linecap="butt"/>
<line x1="25.80" y1="423.80" x2="77.00" y2="423.80" stroke="#a9a9a9" stroke-width="0.80" stroke-linecap="butt"/>
<line x1="24.20" y1="373.00" x2="26.20" y2="373.00" stroke="#a9a9a9" stroke-width="0.70" stroke-linecap="butt"/>
<line x1="24.20" y1="383.16" x2="26.20" y2="383.16" stroke="#a9a9a9" stroke-width="0.70" stroke-linecap="butt"/>
<line x1="24.20" y1="393.32" x2="26.20" y2="393.32" stroke="#a9a9a9" stroke-width="0.70" stroke-linecap="butt"/>
<line x1="24.20" y1="403.48" x2="26.20" y2="403.48" stroke="#a9a9a9" stroke-width="0.70" stroke-linecap="butt"/>
<line x1="24.20" y1="413.64" x2="26.20" y2="413.64" stroke="#a9a9a9" stroke-width="0.70" stroke-linecap="butt"/>
<line x1="26.20" y1="423.80" x2="26.20" y2="426.00" stroke="#a9a9a9" stroke-width="0.70" stroke-linecap="butt"/>
<line x1="36.36" y1="423.80" x2="36.36" y2="426.00" stroke="#a9a9a9" stroke-width="0.70" stroke-linecap="butt"/>
<line x1="46.52" y1="423.80" x2="46.52" y2="426.00" stroke="#a9a9a9" stroke-width="0.70" stroke-linecap="butt"/>
<line x1="56.68" y1="423.80" x2="56.68" y2="426.00" stroke="#a9a9a9" stroke-width="0.70" stroke-linecap="butt"/>
<line x1="66.84" y1="423.80" x2="66.84" y2="426.00" stroke="#a9a9a9" stroke-width="0.70" stroke-linecap="butt"/>
<line x1="77.00" y1="423.80" x2="77.00" y2="426.00" stroke="#a9a9a9" stroke-width="0.70" stroke-linecap="butt"/>
<polyline points="26.0,424.0 36.0,424.0 40.6,414.0 45.0,377.0 49.6,375.6 54.0,391.6 59.0,409.4 64.4,419.0 70.0,421.6 75.0,422.6" fill="none" stroke="#111" stroke-width="1.55" stroke-linejoin="round" stroke-linecap="round"/>
<text x="21.60" y="376.10" font-size="8.00" text-anchor="end" font-weight="normal" fill="#111"  stroke="#111" stroke-width="0.12"><tspan dy="0.00" font-size="8.00">100</tspan></text>
<text x="21.60" y="426.84" font-size="8.00" text-anchor="end" font-weight="normal" fill="#111"  stroke="#111" stroke-width="0.12"><tspan dy="0.00" font-size="8.00">0</tspan></text>
<line x1="26.60" y1="452.00" x2="26.60" y2="503.00" stroke="#a9a9a9" stroke-width="0.80" stroke-linecap="butt"/>
<line x1="26.20" y1="502.60" x2="77.00" y2="502.60" stroke="#a9a9a9" stroke-width="0.80" stroke-linecap="butt"/>
<line x1="24.60" y1="452.00" x2="26.60" y2="452.00" stroke="#a9a9a9" stroke-width="0.70" stroke-linecap="butt"/>
<line x1="24.60" y1="460.43" x2="26.60" y2="460.43" stroke="#a9a9a9" stroke-width="0.70" stroke-linecap="butt"/>
<line x1="24.60" y1="468.87" x2="26.60" y2="468.87" stroke="#a9a9a9" stroke-width="0.70" stroke-linecap="butt"/>
<line x1="24.60" y1="477.30" x2="26.60" y2="477.30" stroke="#a9a9a9" stroke-width="0.70" stroke-linecap="butt"/>
<line x1="24.60" y1="485.73" x2="26.60" y2="485.73" stroke="#a9a9a9" stroke-width="0.70" stroke-linecap="butt"/>
<line x1="24.60" y1="494.17" x2="26.60" y2="494.17" stroke="#a9a9a9" stroke-width="0.70" stroke-linecap="butt"/>
<line x1="26.60" y1="502.60" x2="26.60" y2="504.80" stroke="#a9a9a9" stroke-width="0.70" stroke-linecap="butt"/>
<line x1="36.68" y1="502.60" x2="36.68" y2="504.80" stroke="#a9a9a9" stroke-width="0.70" stroke-linecap="butt"/>
<line x1="46.76" y1="502.60" x2="46.76" y2="504.80" stroke="#a9a9a9" stroke-width="0.70" stroke-linecap="butt"/>
<line x1="56.84" y1="502.60" x2="56.84" y2="504.80" stroke="#a9a9a9" stroke-width="0.70" stroke-linecap="butt"/>
<line x1="66.92" y1="502.60" x2="66.92" y2="504.80" stroke="#a9a9a9" stroke-width="0.70" stroke-linecap="butt"/>
<line x1="77.00" y1="502.60" x2="77.00" y2="504.80" stroke="#a9a9a9" stroke-width="0.70" stroke-linecap="butt"/>
<polyline points="26.6,501.6 31.0,502.6 36.0,502.4 40.6,497.0 45.0,459.0 50.0,457.6 54.4,474.0 59.4,492.4 64.4,500.6 69.0,502.6 76.0,502.4" fill="none" stroke="#ee7a2c" stroke-width="1.55" stroke-linejoin="round" stroke-linecap="round"/>
<text x="21.60" y="455.10" font-size="8.00" text-anchor="end" font-weight="normal" fill="#111"  stroke="#111" stroke-width="0.12"><tspan dy="0.00" font-size="8.00">1.2</tspan></text>
<text x="21.60" y="505.64" font-size="8.00" text-anchor="end" font-weight="normal" fill="#111"  stroke="#111" stroke-width="0.12"><tspan dy="0.00" font-size="8.00">0</tspan></text>
<text x="25.30" y="514.60" font-size="8.00" text-anchor="middle" font-weight="normal" fill="#111"  stroke="#111" stroke-width="0.12"><tspan dy="0.00" font-size="8.00">14.6</tspan></text>
<text x="77.70" y="514.60" font-size="8.00" text-anchor="middle" font-weight="normal" fill="#111"  stroke="#111" stroke-width="0.12"><tspan dy="0.00" font-size="8.00">15.1</tspan></text>
<text x="59.60" y="475.00" font-size="8.00" text-anchor="start" font-weight="normal" fill="#111"  stroke="#111" stroke-width="0.12"><tspan dy="0.00" font-size="8.00">F</tspan><tspan dy="2.32" font-size="4.64">1</tspan><tspan dy="-2.32" font-size="8.00">-CH</tspan><tspan dy="2.32" font-size="4.64">3</tspan><tspan dy="-2.32" font-size="8.00">-H</tspan><tspan dy="2.32" font-size="4.64">4</tspan><tspan dy="-2.32" font-size="8.00">Pte</tspan></text>
<line x1="143.50" y1="499.50" x2="143.50" y2="378.00" stroke="#a5a5a5" stroke-width="0.55" stroke-linecap="butt" stroke-dasharray="3.7 3.9"/>
<line x1="143.50" y1="377.00" x2="143.50" y2="423.20" stroke="#fff" stroke-width="1.60" stroke-linecap="butt" opacity="0.5"/>
<line x1="118.60" y1="372.00" x2="118.60" y2="423.40" stroke="#a9a9a9" stroke-width="0.80" stroke-linecap="butt"/>
<line x1="118.20" y1="423.00" x2="168.40" y2="423.00" stroke="#a9a9a9" stroke-width="0.80" stroke-linecap="butt"/>
<line x1="116.60" y1="372.00" x2="118.60" y2="372.00" stroke="#a9a9a9" stroke-width="0.70" stroke-linecap="butt"/>
<line x1="116.60" y1="382.20" x2="118.60" y2="382.20" stroke="#a9a9a9" stroke-width="0.70" stroke-linecap="butt"/>
<line x1="116.60" y1="392.40" x2="118.60" y2="392.40" stroke="#a9a9a9" stroke-width="0.70" stroke-linecap="butt"/>
<line x1="116.60" y1="402.60" x2="118.60" y2="402.60" stroke="#a9a9a9" stroke-width="0.70" stroke-linecap="butt"/>
<line x1="116.60" y1="412.80" x2="118.60" y2="412.80" stroke="#a9a9a9" stroke-width="0.70" stroke-linecap="butt"/>
<line x1="118.60" y1="423.00" x2="118.60" y2="425.20" stroke="#a9a9a9" stroke-width="0.70" stroke-linecap="butt"/>
<line x1="128.56" y1="423.00" x2="128.56" y2="425.20" stroke="#a9a9a9" stroke-width="0.70" stroke-linecap="butt"/>
<line x1="138.52" y1="423.00" x2="138.52" y2="425.20" stroke="#a9a9a9" stroke-width="0.70" stroke-linecap="butt"/>
<line x1="148.48" y1="423.00" x2="148.48" y2="425.20" stroke="#a9a9a9" stroke-width="0.70" stroke-linecap="butt"/>
<line x1="158.44" y1="423.00" x2="158.44" y2="425.20" stroke="#a9a9a9" stroke-width="0.70" stroke-linecap="butt"/>
<line x1="168.40" y1="423.00" x2="168.40" y2="425.20" stroke="#a9a9a9" stroke-width="0.70" stroke-linecap="butt"/>
<polyline points="118.6,422.6 132.4,423.2 137.4,400.0 142.6,376.0 147.0,388.0 151.6,408.6 157.0,417.6 166.6,421.6" fill="none" stroke="#111" stroke-width="1.55" stroke-linejoin="round" stroke-linecap="round"/>
<text x="113.60" y="375.10" font-size="8.00" text-anchor="end" font-weight="normal" fill="#111"  stroke="#111" stroke-width="0.12"><tspan dy="0.00" font-size="8.00">100</tspan></text>
<text x="113.60" y="426.04" font-size="8.00" text-anchor="end" font-weight="normal" fill="#111"  stroke="#111" stroke-width="0.12"><tspan dy="0.00" font-size="8.00">0</tspan></text>
<line x1="118.60" y1="452.00" x2="118.60" y2="502.40" stroke="#a9a9a9" stroke-width="0.80" stroke-linecap="butt"/>
<line x1="118.20" y1="502.00" x2="167.00" y2="502.00" stroke="#a9a9a9" stroke-width="0.80" stroke-linecap="butt"/>
<line x1="116.60" y1="452.00" x2="118.60" y2="452.00" stroke="#a9a9a9" stroke-width="0.70" stroke-linecap="butt"/>
<line x1="116.60" y1="464.50" x2="118.60" y2="464.50" stroke="#a9a9a9" stroke-width="0.70" stroke-linecap="butt"/>
<line x1="116.60" y1="477.00" x2="118.60" y2="477.00" stroke="#a9a9a9" stroke-width="0.70" stroke-linecap="butt"/>
<line x1="116.60" y1="489.50" x2="118.60" y2="489.50" stroke="#a9a9a9" stroke-width="0.70" stroke-linecap="butt"/>
<line x1="118.60" y1="502.00" x2="118.60" y2="504.20" stroke="#a9a9a9" stroke-width="0.70" stroke-linecap="butt"/>
<line x1="128.28" y1="502.00" x2="128.28" y2="504.20" stroke="#a9a9a9" stroke-width="0.70" stroke-linecap="butt"/>
<line x1="137.96" y1="502.00" x2="137.96" y2="504.20" stroke="#a9a9a9" stroke-width="0.70" stroke-linecap="butt"/>
<line x1="147.64" y1="502.00" x2="147.64" y2="504.20" stroke="#a9a9a9" stroke-width="0.70" stroke-linecap="butt"/>
<line x1="157.32" y1="502.00" x2="157.32" y2="504.20" stroke="#a9a9a9" stroke-width="0.70" stroke-linecap="butt"/>
<line x1="167.00" y1="502.00" x2="167.00" y2="504.20" stroke="#a9a9a9" stroke-width="0.70" stroke-linecap="butt"/>
<polyline points="118.6,501.6 122.6,500.0 127.4,500.8 132.0,500.6 136.6,488.4 141.6,462.0 146.0,469.6 150.6,493.6 155.4,500.6 160.0,501.4 165.6,502.0" fill="none" stroke="#ee7a2c" stroke-width="1.55" stroke-linejoin="round" stroke-linecap="round"/>
<text x="114.00" y="455.10" font-size="8.00" text-anchor="end" font-weight="normal" fill="#111"  stroke="#111" stroke-width="0.12"><tspan dy="0.00" font-size="8.00">0.6</tspan></text>
<text x="114.00" y="505.04" font-size="8.00" text-anchor="end" font-weight="normal" fill="#111"  stroke="#111" stroke-width="0.12"><tspan dy="0.00" font-size="8.00">0</tspan></text>
<text x="117.20" y="515.00" font-size="8.00" text-anchor="middle" font-weight="normal" fill="#111"  stroke="#111" stroke-width="0.12"><tspan dy="0.00" font-size="8.00">14.7</tspan></text>
<text x="167.90" y="515.00" font-size="8.00" text-anchor="middle" font-weight="normal" fill="#111"  stroke="#111" stroke-width="0.12"><tspan dy="0.00" font-size="8.00">15.2</tspan></text>
<text x="153.00" y="475.60" font-size="8.00" text-anchor="start" font-weight="normal" fill="#111"  stroke="#111" stroke-width="0.12"><tspan dy="0.00" font-size="8.00">F</tspan><tspan dy="2.32" font-size="4.64">1</tspan><tspan dy="-2.32" font-size="8.00">-CH</tspan><tspan dy="2.32" font-size="4.64">3</tspan><tspan dy="-2.32" font-size="8.00">-H</tspan><tspan dy="2.32" font-size="4.64">4</tspan><tspan dy="-2.32" font-size="8.00">Pte</tspan></text>
<line x1="230.50" y1="499.50" x2="230.50" y2="383.00" stroke="#a5a5a5" stroke-width="0.55" stroke-linecap="butt" stroke-dasharray="3.7 3.9"/>
<line x1="230.50" y1="382.00" x2="230.50" y2="423.20" stroke="#fff" stroke-width="1.60" stroke-linecap="butt" opacity="0.5"/>
<line x1="209.60" y1="372.40" x2="209.60" y2="423.80" stroke="#a9a9a9" stroke-width="0.80" stroke-linecap="butt"/>
<line x1="209.20" y1="423.40" x2="260.00" y2="423.40" stroke="#a9a9a9" stroke-width="0.80" stroke-linecap="butt"/>
<line x1="207.60" y1="372.40" x2="209.60" y2="372.40" stroke="#a9a9a9" stroke-width="0.70" stroke-linecap="butt"/>
<line x1="207.60" y1="382.60" x2="209.60" y2="382.60" stroke="#a9a9a9" stroke-width="0.70" stroke-linecap="butt"/>
<line x1="207.60" y1="392.80" x2="209.60" y2="392.80" stroke="#a9a9a9" stroke-width="0.70" stroke-linecap="butt"/>
<line x1="207.60" y1="403.00" x2="209.60" y2="403.00" stroke="#a9a9a9" stroke-width="0.70" stroke-linecap="butt"/>
<line x1="207.60" y1="413.20" x2="209.60" y2="413.20" stroke="#a9a9a9" stroke-width="0.70" stroke-linecap="butt"/>
<line x1="209.60" y1="423.40" x2="209.60" y2="425.60" stroke="#a9a9a9" stroke-width="0.70" stroke-linecap="butt"/>
<line x1="219.68" y1="423.40" x2="219.68" y2="425.60" stroke="#a9a9a9" stroke-width="0.70" stroke-linecap="butt"/>
<line x1="229.76" y1="423.40" x2="229.76" y2="425.60" stroke="#a9a9a9" stroke-width="0.70" stroke-linecap="butt"/>
<line x1="239.84" y1="423.40" x2="239.84" y2="425.60" stroke="#a9a9a9" stroke-width="0.70" stroke-linecap="butt"/>
<line x1="249.92" y1="423.40" x2="249.92" y2="425.60" stroke="#a9a9a9" stroke-width="0.70" stroke-linecap="butt"/>
<line x1="260.00" y1="423.40" x2="260.00" y2="425.60" stroke="#a9a9a9" stroke-width="0.70" stroke-linecap="butt"/>
<polyline points="209.6,423.4 219.6,423.4 225.0,400.0 230.0,381.0 234.4,397.0 239.0,411.4 244.4,418.0 250.0,420.6 255.0,422.0 260.0,422.6" fill="none" stroke="#111" stroke-width="1.55" stroke-linejoin="round" stroke-linecap="round"/>
<text x="204.40" y="375.50" font-size="8.00" text-anchor="end" font-weight="normal" fill="#111"  stroke="#111" stroke-width="0.12"><tspan dy="0.00" font-size="8.00">100</tspan></text>
<text x="204.40" y="426.44" font-size="8.00" text-anchor="end" font-weight="normal" fill="#111"  stroke="#111" stroke-width="0.12"><tspan dy="0.00" font-size="8.00">0</tspan></text>
<line x1="210.40" y1="452.40" x2="210.40" y2="502.80" stroke="#a9a9a9" stroke-width="0.80" stroke-linecap="butt"/>
<line x1="210.00" y1="502.40" x2="261.00" y2="502.40" stroke="#a9a9a9" stroke-width="0.80" stroke-linecap="butt"/>
<line x1="208.40" y1="452.40" x2="210.40" y2="452.40" stroke="#a9a9a9" stroke-width="0.70" stroke-linecap="butt"/>
<line x1="208.40" y1="462.40" x2="210.40" y2="462.40" stroke="#a9a9a9" stroke-width="0.70" stroke-linecap="butt"/>
<line x1="208.40" y1="472.40" x2="210.40" y2="472.40" stroke="#a9a9a9" stroke-width="0.70" stroke-linecap="butt"/>
<line x1="208.40" y1="482.40" x2="210.40" y2="482.40" stroke="#a9a9a9" stroke-width="0.70" stroke-linecap="butt"/>
<line x1="208.40" y1="492.40" x2="210.40" y2="492.40" stroke="#a9a9a9" stroke-width="0.70" stroke-linecap="butt"/>
<line x1="210.40" y1="502.40" x2="210.40" y2="504.60" stroke="#a9a9a9" stroke-width="0.70" stroke-linecap="butt"/>
<line x1="220.52" y1="502.40" x2="220.52" y2="504.60" stroke="#a9a9a9" stroke-width="0.70" stroke-linecap="butt"/>
<line x1="230.64" y1="502.40" x2="230.64" y2="504.60" stroke="#a9a9a9" stroke-width="0.70" stroke-linecap="butt"/>
<line x1="240.76" y1="502.40" x2="240.76" y2="504.60" stroke="#a9a9a9" stroke-width="0.70" stroke-linecap="butt"/>
<line x1="250.88" y1="502.40" x2="250.88" y2="504.60" stroke="#a9a9a9" stroke-width="0.70" stroke-linecap="butt"/>
<line x1="261.00" y1="502.40" x2="261.00" y2="504.60" stroke="#a9a9a9" stroke-width="0.70" stroke-linecap="butt"/>
<polyline points="210.4,501.6 215.6,500.8 220.6,501.0 225.6,479.0 230.8,455.4 235.0,476.0 239.6,497.0 245.0,500.0 250.0,502.4 254.4,502.0 260.0,499.0" fill="none" stroke="#ee7a2c" stroke-width="1.55" stroke-linejoin="round" stroke-linecap="round"/>
<text x="204.00" y="455.50" font-size="8.00" text-anchor="end" font-weight="normal" fill="#111"  stroke="#111" stroke-width="0.12"><tspan dy="0.00" font-size="8.00">0.25</tspan></text>
<text x="204.00" y="505.44" font-size="8.00" text-anchor="end" font-weight="normal" fill="#111"  stroke="#111" stroke-width="0.12"><tspan dy="0.00" font-size="8.00">0</tspan></text>
<text x="211.10" y="515.40" font-size="8.00" text-anchor="middle" font-weight="normal" fill="#111"  stroke="#111" stroke-width="0.12"><tspan dy="0.00" font-size="8.00">14.8</tspan></text>
<text x="261.30" y="515.40" font-size="8.00" text-anchor="middle" font-weight="normal" fill="#111"  stroke="#111" stroke-width="0.12"><tspan dy="0.00" font-size="8.00">15.3</tspan></text>
<text x="240.00" y="475.60" font-size="8.00" text-anchor="start" font-weight="normal" fill="#111"  stroke="#111" stroke-width="0.12"><tspan dy="0.00" font-size="8.00">F</tspan><tspan dy="2.32" font-size="4.64">1</tspan><tspan dy="-2.32" font-size="8.00">-CH</tspan><tspan dy="2.32" font-size="4.64">3</tspan><tspan dy="-2.32" font-size="8.00">-H</tspan><tspan dy="2.32" font-size="4.64">4</tspan><tspan dy="-2.32" font-size="8.00">Pte</tspan></text>
<line x1="319.50" y1="499.50" x2="319.50" y2="382.00" stroke="#a5a5a5" stroke-width="0.55" stroke-linecap="butt" stroke-dasharray="3.7 3.9"/>
<line x1="319.50" y1="381.00" x2="319.50" y2="423.20" stroke="#fff" stroke-width="1.60" stroke-linecap="butt" opacity="0.5"/>
<line x1="296.00" y1="372.00" x2="296.00" y2="423.00" stroke="#a9a9a9" stroke-width="0.80" stroke-linecap="butt"/>
<line x1="295.60" y1="422.60" x2="347.20" y2="422.60" stroke="#a9a9a9" stroke-width="0.80" stroke-linecap="butt"/>
<line x1="294.00" y1="372.00" x2="296.00" y2="372.00" stroke="#a9a9a9" stroke-width="0.70" stroke-linecap="butt"/>
<line x1="294.00" y1="380.43" x2="296.00" y2="380.43" stroke="#a9a9a9" stroke-width="0.70" stroke-linecap="butt"/>
<line x1="294.00" y1="388.87" x2="296.00" y2="388.87" stroke="#a9a9a9" stroke-width="0.70" stroke-linecap="butt"/>
<line x1="294.00" y1="397.30" x2="296.00" y2="397.30" stroke="#a9a9a9" stroke-width="0.70" stroke-linecap="butt"/>
<line x1="294.00" y1="405.73" x2="296.00" y2="405.73" stroke="#a9a9a9" stroke-width="0.70" stroke-linecap="butt"/>
<line x1="294.00" y1="414.17" x2="296.00" y2="414.17" stroke="#a9a9a9" stroke-width="0.70" stroke-linecap="butt"/>
<line x1="296.20" y1="422.60" x2="296.20" y2="424.60" stroke="#222" stroke-width="1.10" stroke-linecap="butt"/>
<line x1="308.85" y1="422.60" x2="308.85" y2="424.60" stroke="#222" stroke-width="1.10" stroke-linecap="butt"/>
<line x1="321.50" y1="422.60" x2="321.50" y2="424.60" stroke="#222" stroke-width="1.10" stroke-linecap="butt"/>
<line x1="334.15" y1="422.60" x2="334.15" y2="424.60" stroke="#222" stroke-width="1.10" stroke-linecap="butt"/>
<line x1="346.80" y1="422.60" x2="346.80" y2="424.60" stroke="#222" stroke-width="1.10" stroke-linecap="butt"/>
<polyline points="296.0,422.5 307.8,422.5 314.0,388.6 319.0,380.0 325.4,412.4 332.0,422.2 344.8,422.7" fill="none" stroke="#111" stroke-width="1.55" stroke-linejoin="round" stroke-linecap="round"/>
<text x="291.00" y="375.10" font-size="8.00" text-anchor="end" font-weight="normal" fill="#111"  stroke="#111" stroke-width="0.12"><tspan dy="0.00" font-size="8.00">30</tspan></text>
<text x="291.00" y="425.64" font-size="8.00" text-anchor="end" font-weight="normal" fill="#111"  stroke="#111" stroke-width="0.12"><tspan dy="0.00" font-size="8.00">0</tspan></text>
<line x1="297.40" y1="452.00" x2="297.40" y2="502.80" stroke="#a9a9a9" stroke-width="0.80" stroke-linecap="butt"/>
<line x1="297.00" y1="502.40" x2="347.00" y2="502.40" stroke="#a9a9a9" stroke-width="0.80" stroke-linecap="butt"/>
<line x1="295.40" y1="452.00" x2="297.40" y2="452.00" stroke="#a9a9a9" stroke-width="0.70" stroke-linecap="butt"/>
<line x1="295.40" y1="464.60" x2="297.40" y2="464.60" stroke="#a9a9a9" stroke-width="0.70" stroke-linecap="butt"/>
<line x1="295.40" y1="477.20" x2="297.40" y2="477.20" stroke="#a9a9a9" stroke-width="0.70" stroke-linecap="butt"/>
<line x1="295.40" y1="489.80" x2="297.40" y2="489.80" stroke="#a9a9a9" stroke-width="0.70" stroke-linecap="butt"/>
<line x1="297.40" y1="502.40" x2="297.40" y2="504.60" stroke="#a9a9a9" stroke-width="0.70" stroke-linecap="butt"/>
<line x1="309.80" y1="502.40" x2="309.80" y2="504.60" stroke="#a9a9a9" stroke-width="0.70" stroke-linecap="butt"/>
<line x1="322.20" y1="502.40" x2="322.20" y2="504.60" stroke="#a9a9a9" stroke-width="0.70" stroke-linecap="butt"/>
<line x1="334.60" y1="502.40" x2="334.60" y2="504.60" stroke="#a9a9a9" stroke-width="0.70" stroke-linecap="butt"/>
<line x1="347.00" y1="502.40" x2="347.00" y2="504.60" stroke="#a9a9a9" stroke-width="0.70" stroke-linecap="butt"/>
<polyline points="297.4,502.4 314.0,502.4 319.4,458.6 325.4,502.4 345.0,502.4" fill="none" stroke="#ee7a2c" stroke-width="1.55" stroke-linejoin="round" stroke-linecap="round"/>
<text x="291.40" y="454.40" font-size="8.00" text-anchor="end" font-weight="normal" fill="#111"  stroke="#111" stroke-width="0.12"><tspan dy="0.00" font-size="8.00">0.004</tspan></text>
<text x="291.40" y="504.95" font-size="8.00" text-anchor="end" font-weight="normal" fill="#111"  stroke="#111" stroke-width="0.12"><tspan dy="0.00" font-size="8.00">0</tspan></text>
<text x="297.00" y="515.00" font-size="8.00" text-anchor="middle" font-weight="normal" fill="#111"  stroke="#111" stroke-width="0.12"><tspan dy="0.00" font-size="8.00">15</tspan></text>
<text x="346.30" y="515.00" font-size="8.00" text-anchor="middle" font-weight="normal" fill="#111"  stroke="#111" stroke-width="0.12"><tspan dy="0.00" font-size="8.00">15.4</tspan></text>
<text x="325.00" y="476.00" font-size="8.00" text-anchor="start" font-weight="normal" fill="#111"  stroke="#111" stroke-width="0.12"><tspan dy="0.00" font-size="8.00">F</tspan><tspan dy="2.32" font-size="4.64">1</tspan><tspan dy="-2.32" font-size="8.00">-CHO-H</tspan><tspan dy="2.32" font-size="4.64">4</tspan><tspan dy="-2.32" font-size="8.00">Pte</tspan></text>
<line x1="408.50" y1="500.00" x2="408.50" y2="384.00" stroke="#a5a5a5" stroke-width="0.55" stroke-linecap="butt" stroke-dasharray="3.7 3.9"/>
<line x1="408.50" y1="383.00" x2="408.50" y2="423.20" stroke="#fff" stroke-width="1.60" stroke-linecap="butt" opacity="0.5"/>
<line x1="390.60" y1="372.60" x2="390.60" y2="423.40" stroke="#a9a9a9" stroke-width="0.80" stroke-linecap="butt"/>
<line x1="390.20" y1="423.00" x2="439.00" y2="423.00" stroke="#a9a9a9" stroke-width="0.80" stroke-linecap="butt"/>
<line x1="388.60" y1="372.60" x2="390.60" y2="372.60" stroke="#a9a9a9" stroke-width="0.70" stroke-linecap="butt"/>
<line x1="388.60" y1="382.68" x2="390.60" y2="382.68" stroke="#a9a9a9" stroke-width="0.70" stroke-linecap="butt"/>
<line x1="388.60" y1="392.76" x2="390.60" y2="392.76" stroke="#a9a9a9" stroke-width="0.70" stroke-linecap="butt"/>
<line x1="388.60" y1="402.84" x2="390.60" y2="402.84" stroke="#a9a9a9" stroke-width="0.70" stroke-linecap="butt"/>
<line x1="388.60" y1="412.92" x2="390.60" y2="412.92" stroke="#a9a9a9" stroke-width="0.70" stroke-linecap="butt"/>
<line x1="390.60" y1="423.00" x2="390.60" y2="425.20" stroke="#a9a9a9" stroke-width="0.70" stroke-linecap="butt"/>
<line x1="402.70" y1="423.00" x2="402.70" y2="425.20" stroke="#a9a9a9" stroke-width="0.70" stroke-linecap="butt"/>
<line x1="414.80" y1="423.00" x2="414.80" y2="425.20" stroke="#a9a9a9" stroke-width="0.70" stroke-linecap="butt"/>
<line x1="426.90" y1="423.00" x2="426.90" y2="425.20" stroke="#a9a9a9" stroke-width="0.70" stroke-linecap="butt"/>
<line x1="439.00" y1="423.00" x2="439.00" y2="425.20" stroke="#a9a9a9" stroke-width="0.70" stroke-linecap="butt"/>
<polyline points="390.6,423.0 394.0,422.6 400.0,414.6 406.4,382.4 412.4,382.4 418.0,397.0 423.0,412.0 429.0,417.4 435.0,420.4 439.0,421.0" fill="none" stroke="#111" stroke-width="1.55" stroke-linejoin="round" stroke-linecap="round"/>
<text x="386.00" y="375.70" font-size="8.00" text-anchor="end" font-weight="normal" fill="#111"  stroke="#111" stroke-width="0.12"><tspan dy="0.00" font-size="8.00">50</tspan></text>
<text x="386.00" y="426.04" font-size="8.00" text-anchor="end" font-weight="normal" fill="#111"  stroke="#111" stroke-width="0.12"><tspan dy="0.00" font-size="8.00">0</tspan></text>
<line x1="389.60" y1="453.00" x2="389.60" y2="502.40" stroke="#a9a9a9" stroke-width="0.80" stroke-linecap="butt"/>
<line x1="389.20" y1="502.00" x2="441.00" y2="502.00" stroke="#a9a9a9" stroke-width="0.80" stroke-linecap="butt"/>
<line x1="387.60" y1="453.00" x2="389.60" y2="453.00" stroke="#a9a9a9" stroke-width="0.70" stroke-linecap="butt"/>
<line x1="387.60" y1="465.25" x2="389.60" y2="465.25" stroke="#a9a9a9" stroke-width="0.70" stroke-linecap="butt"/>
<line x1="387.60" y1="477.50" x2="389.60" y2="477.50" stroke="#a9a9a9" stroke-width="0.70" stroke-linecap="butt"/>
<line x1="387.60" y1="489.75" x2="389.60" y2="489.75" stroke="#a9a9a9" stroke-width="0.70" stroke-linecap="butt"/>
<line x1="389.60" y1="502.00" x2="389.60" y2="504.20" stroke="#a9a9a9" stroke-width="0.70" stroke-linecap="butt"/>
<line x1="402.45" y1="502.00" x2="402.45" y2="504.20" stroke="#a9a9a9" stroke-width="0.70" stroke-linecap="butt"/>
<line x1="415.30" y1="502.00" x2="415.30" y2="504.20" stroke="#a9a9a9" stroke-width="0.70" stroke-linecap="butt"/>
<line x1="428.15" y1="502.00" x2="428.15" y2="504.20" stroke="#a9a9a9" stroke-width="0.70" stroke-linecap="butt"/>
<line x1="441.00" y1="502.00" x2="441.00" y2="504.20" stroke="#a9a9a9" stroke-width="0.70" stroke-linecap="butt"/>
<polyline points="389.6,500.0 394.0,501.4 400.0,493.6 406.6,459.0 412.6,467.0 418.4,478.0 424.4,490.0 430.6,498.0 436.4,500.4 441.0,501.4" fill="none" stroke="#ee7a2c" stroke-width="1.55" stroke-linejoin="round" stroke-linecap="round"/>
<text x="384.40" y="456.10" font-size="8.00" text-anchor="end" font-weight="normal" fill="#111"  stroke="#111" stroke-width="0.12"><tspan dy="0.00" font-size="8.00">0.08</tspan></text>
<text x="384.40" y="505.04" font-size="8.00" text-anchor="end" font-weight="normal" fill="#111"  stroke="#111" stroke-width="0.12"><tspan dy="0.00" font-size="8.00">0</tspan></text>
<text x="390.50" y="515.00" font-size="8.00" text-anchor="middle" font-weight="normal" fill="#111"  stroke="#111" stroke-width="0.12"><tspan dy="0.00" font-size="8.00">14.9</tspan></text>
<text x="440.50" y="515.00" font-size="8.00" text-anchor="middle" font-weight="normal" fill="#111"  stroke="#111" stroke-width="0.12"><tspan dy="0.00" font-size="8.00">15.3</tspan></text>
<text x="421.60" y="476.40" font-size="8.00" text-anchor="start" font-weight="normal" fill="#111"  stroke="#111" stroke-width="0.12"><tspan dy="0.00" font-size="8.00">F</tspan><tspan dy="2.32" font-size="4.64">1</tspan><tspan dy="-2.32" font-size="8.00">-CHO-H</tspan><tspan dy="2.32" font-size="4.64">4</tspan><tspan dy="-2.32" font-size="8.00">Pte</tspan></text>
<line x1="505.50" y1="500.00" x2="505.50" y2="382.00" stroke="#a5a5a5" stroke-width="0.55" stroke-linecap="butt" stroke-dasharray="3.7 3.9"/>
<line x1="505.50" y1="381.00" x2="505.50" y2="423.20" stroke="#fff" stroke-width="1.60" stroke-linecap="butt" opacity="0.5"/>
<line x1="488.00" y1="372.60" x2="488.00" y2="424.00" stroke="#a9a9a9" stroke-width="0.80" stroke-linecap="butt"/>
<line x1="487.60" y1="423.60" x2="538.00" y2="423.60" stroke="#a9a9a9" stroke-width="0.80" stroke-linecap="butt"/>
<line x1="486.00" y1="372.60" x2="488.00" y2="372.60" stroke="#a9a9a9" stroke-width="0.70" stroke-linecap="butt"/>
<line x1="486.00" y1="385.35" x2="488.00" y2="385.35" stroke="#a9a9a9" stroke-width="0.70" stroke-linecap="butt"/>
<line x1="486.00" y1="398.10" x2="488.00" y2="398.10" stroke="#a9a9a9" stroke-width="0.70" stroke-linecap="butt"/>
<line x1="486.00" y1="410.85" x2="488.00" y2="410.85" stroke="#a9a9a9" stroke-width="0.70" stroke-linecap="butt"/>
<line x1="488.00" y1="423.60" x2="488.00" y2="425.80" stroke="#a9a9a9" stroke-width="0.70" stroke-linecap="butt"/>
<line x1="498.00" y1="423.60" x2="498.00" y2="425.80" stroke="#a9a9a9" stroke-width="0.70" stroke-linecap="butt"/>
<line x1="508.00" y1="423.60" x2="508.00" y2="425.80" stroke="#a9a9a9" stroke-width="0.70" stroke-linecap="butt"/>
<line x1="518.00" y1="423.60" x2="518.00" y2="425.80" stroke="#a9a9a9" stroke-width="0.70" stroke-linecap="butt"/>
<line x1="528.00" y1="423.60" x2="528.00" y2="425.80" stroke="#a9a9a9" stroke-width="0.70" stroke-linecap="butt"/>
<line x1="538.00" y1="423.60" x2="538.00" y2="425.80" stroke="#a9a9a9" stroke-width="0.70" stroke-linecap="butt"/>
<polyline points="488.0,423.0 495.0,423.0 500.0,402.0 505.0,380.0 509.6,392.0 514.4,405.6 519.0,414.6 524.0,419.0 529.0,421.0 533.6,421.8 538.6,421.6" fill="none" stroke="#111" stroke-width="1.55" stroke-linejoin="round" stroke-linecap="round"/>
<text x="482.40" y="375.70" font-size="8.00" text-anchor="end" font-weight="normal" fill="#111"  stroke="#111" stroke-width="0.12"><tspan dy="0.00" font-size="8.00">40</tspan></text>
<text x="482.40" y="426.64" font-size="8.00" text-anchor="end" font-weight="normal" fill="#111"  stroke="#111" stroke-width="0.12"><tspan dy="0.00" font-size="8.00">0</tspan></text>
<line x1="488.60" y1="453.00" x2="488.60" y2="503.40" stroke="#a9a9a9" stroke-width="0.80" stroke-linecap="butt"/>
<line x1="488.20" y1="503.00" x2="538.00" y2="503.00" stroke="#a9a9a9" stroke-width="0.80" stroke-linecap="butt"/>
<line x1="486.60" y1="453.00" x2="488.60" y2="453.00" stroke="#a9a9a9" stroke-width="0.70" stroke-linecap="butt"/>
<line x1="486.60" y1="465.50" x2="488.60" y2="465.50" stroke="#a9a9a9" stroke-width="0.70" stroke-linecap="butt"/>
<line x1="486.60" y1="478.00" x2="488.60" y2="478.00" stroke="#a9a9a9" stroke-width="0.70" stroke-linecap="butt"/>
<line x1="486.60" y1="490.50" x2="488.60" y2="490.50" stroke="#a9a9a9" stroke-width="0.70" stroke-linecap="butt"/>
<line x1="488.60" y1="503.00" x2="488.60" y2="505.20" stroke="#a9a9a9" stroke-width="0.70" stroke-linecap="butt"/>
<line x1="498.48" y1="503.00" x2="498.48" y2="505.20" stroke="#a9a9a9" stroke-width="0.70" stroke-linecap="butt"/>
<line x1="508.36" y1="503.00" x2="508.36" y2="505.20" stroke="#a9a9a9" stroke-width="0.70" stroke-linecap="butt"/>
<line x1="518.24" y1="503.00" x2="518.24" y2="505.20" stroke="#a9a9a9" stroke-width="0.70" stroke-linecap="butt"/>
<line x1="528.12" y1="503.00" x2="528.12" y2="505.20" stroke="#a9a9a9" stroke-width="0.70" stroke-linecap="butt"/>
<line x1="538.00" y1="503.00" x2="538.00" y2="505.20" stroke="#a9a9a9" stroke-width="0.70" stroke-linecap="butt"/>
<polyline points="488.6,503.0 495.6,502.0 500.6,486.0 505.4,457.6 510.0,476.0 514.4,487.6 519.0,497.4 524.0,499.4 529.0,501.0 533.6,501.6 538.6,500.6" fill="none" stroke="#ee7a2c" stroke-width="1.55" stroke-linejoin="round" stroke-linecap="round"/>
<text x="483.00" y="456.80" font-size="8.00" text-anchor="end" font-weight="normal" fill="#111"  stroke="#111" stroke-width="0.12"><tspan dy="0.00" font-size="8.00">0.08</tspan></text>
<text x="483.00" y="506.53" font-size="8.00" text-anchor="end" font-weight="normal" fill="#111"  stroke="#111" stroke-width="0.12"><tspan dy="0.00" font-size="8.00">0</tspan></text>
<text x="489.50" y="515.00" font-size="8.00" text-anchor="middle" font-weight="normal" fill="#111"  stroke="#111" stroke-width="0.12"><tspan dy="0.00" font-size="8.00">14.9</tspan></text>
<text x="537.30" y="515.00" font-size="8.00" text-anchor="middle" font-weight="normal" fill="#111"  stroke="#111" stroke-width="0.12"><tspan dy="0.00" font-size="8.00">15.4</tspan></text>
<text x="515.00" y="474.40" font-size="8.00" text-anchor="start" font-weight="normal" fill="#111"  stroke="#111" stroke-width="0.12"><tspan dy="0.00" font-size="8.00">F</tspan><tspan dy="2.32" font-size="4.64">1</tspan><tspan dy="-2.32" font-size="8.00">-CHO-H</tspan><tspan dy="2.32" font-size="4.64">4</tspan><tspan dy="-2.32" font-size="8.00">Pte</tspan></text>
<line x1="600.50" y1="500.00" x2="600.50" y2="386.00" stroke="#a5a5a5" stroke-width="0.55" stroke-linecap="butt" stroke-dasharray="3.7 3.9"/>
<line x1="600.50" y1="385.00" x2="600.50" y2="423.20" stroke="#fff" stroke-width="1.60" stroke-linecap="butt" opacity="0.5"/>
<line x1="586.00" y1="373.00" x2="586.00" y2="423.80" stroke="#a9a9a9" stroke-width="0.80" stroke-linecap="butt"/>
<line x1="585.60" y1="423.40" x2="666.60" y2="423.40" stroke="#a9a9a9" stroke-width="0.80" stroke-linecap="butt"/>
<line x1="584.00" y1="373.00" x2="586.00" y2="373.00" stroke="#a9a9a9" stroke-width="0.70" stroke-linecap="butt"/>
<line x1="584.00" y1="383.08" x2="586.00" y2="383.08" stroke="#a9a9a9" stroke-width="0.70" stroke-linecap="butt"/>
<line x1="584.00" y1="393.16" x2="586.00" y2="393.16" stroke="#a9a9a9" stroke-width="0.70" stroke-linecap="butt"/>
<line x1="584.00" y1="403.24" x2="586.00" y2="403.24" stroke="#a9a9a9" stroke-width="0.70" stroke-linecap="butt"/>
<line x1="584.00" y1="413.32" x2="586.00" y2="413.32" stroke="#a9a9a9" stroke-width="0.70" stroke-linecap="butt"/>
<line x1="586.00" y1="423.40" x2="586.00" y2="425.60" stroke="#a9a9a9" stroke-width="0.70" stroke-linecap="butt"/>
<line x1="601.00" y1="423.40" x2="601.00" y2="425.60" stroke="#a9a9a9" stroke-width="0.70" stroke-linecap="butt"/>
<line x1="616.00" y1="423.40" x2="616.00" y2="425.60" stroke="#a9a9a9" stroke-width="0.70" stroke-linecap="butt"/>
<line x1="631.00" y1="423.40" x2="631.00" y2="425.60" stroke="#a9a9a9" stroke-width="0.70" stroke-linecap="butt"/>
<line x1="646.00" y1="423.40" x2="646.00" y2="425.60" stroke="#a9a9a9" stroke-width="0.70" stroke-linecap="butt"/>
<line x1="661.00" y1="423.40" x2="661.00" y2="425.60" stroke="#a9a9a9" stroke-width="0.70" stroke-linecap="butt"/>
<polyline points="586.0,423.4 592.0,423.2 596.0,413.0 600.0,384.4 603.4,388.0 607.0,407.0 610.6,418.0 615.0,420.4 621.0,421.6 630.0,422.4 640.0,423.0 666.6,423.0" fill="none" stroke="#111" stroke-width="1.55" stroke-linejoin="round" stroke-linecap="round"/>
<text x="582.00" y="376.10" font-size="8.00" text-anchor="end" font-weight="normal" fill="#111"  stroke="#111" stroke-width="0.12"><tspan dy="0.00" font-size="8.00">50</tspan></text>
<text x="582.00" y="426.44" font-size="8.00" text-anchor="end" font-weight="normal" fill="#111"  stroke="#111" stroke-width="0.12"><tspan dy="0.00" font-size="8.00">0</tspan></text>
<polyline points="587.0,497.4 599.0,496.0 612.0,496.6 624.0,497.0 633.3,495.8 640.0,493.8 641.6,492.6 644.5,482.0 647.2,468.8 648.6,466.5 650.0,466.3 651.4,467.2 653.0,471.5 655.2,478.5 659.2,489.0 662.5,493.4 666.2,495.6" fill="none" stroke="#747474" stroke-width="1.25" stroke-linejoin="round" stroke-dasharray="3.3 1.6"/>
<line x1="586.40" y1="452.40" x2="586.40" y2="502.80" stroke="#a9a9a9" stroke-width="0.80" stroke-linecap="butt"/>
<line x1="586.00" y1="502.40" x2="664.00" y2="502.40" stroke="#a9a9a9" stroke-width="0.80" stroke-linecap="butt"/>
<line x1="584.40" y1="452.40" x2="586.40" y2="452.40" stroke="#a9a9a9" stroke-width="0.70" stroke-linecap="butt"/>
<line x1="584.40" y1="464.90" x2="586.40" y2="464.90" stroke="#a9a9a9" stroke-width="0.70" stroke-linecap="butt"/>
<line x1="584.40" y1="477.40" x2="586.40" y2="477.40" stroke="#a9a9a9" stroke-width="0.70" stroke-linecap="butt"/>
<line x1="584.40" y1="489.90" x2="586.40" y2="489.90" stroke="#a9a9a9" stroke-width="0.70" stroke-linecap="butt"/>
<line x1="586.40" y1="502.40" x2="586.40" y2="504.60" stroke="#a9a9a9" stroke-width="0.70" stroke-linecap="butt"/>
<line x1="600.52" y1="502.40" x2="600.52" y2="504.60" stroke="#a9a9a9" stroke-width="0.70" stroke-linecap="butt"/>
<line x1="614.64" y1="502.40" x2="614.64" y2="504.60" stroke="#a9a9a9" stroke-width="0.70" stroke-linecap="butt"/>
<line x1="628.76" y1="502.40" x2="628.76" y2="504.60" stroke="#a9a9a9" stroke-width="0.70" stroke-linecap="butt"/>
<line x1="642.88" y1="502.40" x2="642.88" y2="504.60" stroke="#a9a9a9" stroke-width="0.70" stroke-linecap="butt"/>
<line x1="657.00" y1="502.40" x2="657.00" y2="504.60" stroke="#a9a9a9" stroke-width="0.70" stroke-linecap="butt"/>
<polyline points="586.4,502.6 592.0,502.6 595.6,491.0 599.0,464.0 602.4,473.6 606.0,493.0 609.6,499.6 613.0,499.0 623.6,501.4 628.0,500.6 637.0,500.6 641.0,500.0 645.6,491.0 649.4,475.0 653.0,488.0 657.0,497.6 663.0,501.0" fill="none" stroke="#ee7a2c" stroke-width="1.55" stroke-linejoin="round" stroke-linecap="round"/>
<text x="580.00" y="455.50" font-size="8.00" text-anchor="end" font-weight="normal" fill="#111"  stroke="#111" stroke-width="0.12"><tspan dy="0.00" font-size="8.00">2</tspan></text>
<text x="580.00" y="505.44" font-size="8.00" text-anchor="end" font-weight="normal" fill="#111"  stroke="#111" stroke-width="0.12"><tspan dy="0.00" font-size="8.00">0</tspan></text>
<text x="587.50" y="515.00" font-size="8.00" text-anchor="middle" font-weight="normal" fill="#111"  stroke="#111" stroke-width="0.12"><tspan dy="0.00" font-size="8.00">14.5</tspan></text>
<text x="657.50" y="515.00" font-size="8.00" text-anchor="middle" font-weight="normal" fill="#111"  stroke="#111" stroke-width="0.12"><tspan dy="0.00" font-size="8.00">15.5</tspan></text>
<text x="636.00" y="447.60" font-size="8.00" text-anchor="start" font-weight="normal" fill="#111"  stroke="#111" stroke-width="0.12"><tspan dy="0.00" font-size="8.00">Standard</tspan></text>
<line x1="659.80" y1="451.60" x2="654.80" y2="464.80" stroke="#808080" stroke-width="0.70" stroke-linecap="butt" stroke-dasharray="2.6 1.6"/>
<text x="603.00" y="461.80" font-size="8.00" text-anchor="start" font-weight="normal" fill="#111"  stroke="#111" stroke-width="0.12"><tspan dy="0.00" font-size="8.00">CH=H</tspan><tspan dy="2.32" font-size="4.64">4</tspan><tspan dy="-2.32" font-size="8.00">PteGlu</tspan></text>
<g transform="translate(8.20,308.20) rotate(-90)">
<text x="0.00" y="0.00" font-size="8.00" text-anchor="start" font-weight="normal" fill="#111"  stroke="#111" stroke-width="0.12"><tspan dy="0.00" font-size="8.00">Intensity (ion counts x 10</tspan><tspan dy="-3.04" font-size="5.00">7</tspan><tspan dy="3.04" font-size="8.00">)</tspan></text>
</g>
<g transform="translate(8.20,510.20) rotate(-90)">
<text x="0.00" y="0.00" font-size="8.00" text-anchor="start" font-weight="normal" fill="#111"  stroke="#111" stroke-width="0.12"><tspan dy="0.00" font-size="8.00">Intensity (ion counts x 10</tspan><tspan dy="-3.04" font-size="5.00">7</tspan><tspan dy="3.04" font-size="8.00">)</tspan></text>
</g>
<line x1="5.20" y1="200.80" x2="5.20" y2="187.00" stroke="#8a8a8a" stroke-width="0.55" stroke-linecap="butt"/>
<path d="M5.20 185.40 l-1.3 2.6 h2.6 z" fill="#8a8a8a"/>
<line x1="6.00" y1="405.50" x2="6.00" y2="391.00" stroke="#8a8a8a" stroke-width="0.55" stroke-linecap="butt"/>
<path d="M6.00 389.40 l-1.3 2.6 h2.6 z" fill="#8a8a8a"/>
<text x="37.40" y="323.20" font-size="8.40" text-anchor="start" font-weight="normal" fill="#111"  stroke="#111" stroke-width="0.12"><tspan dy="0.00" font-size="8.40">rt (min)</tspan></text>
<line x1="68.00" y1="320.20" x2="81.60" y2="320.20" stroke="#8a8a8a" stroke-width="0.55" stroke-linecap="butt"/>
<path d="M83.20 320.20 l-2.6 -1.3 v2.6 z" fill="#8a8a8a"/>
<text x="37.00" y="524.20" font-size="8.40" text-anchor="start" font-weight="normal" fill="#111"  stroke="#111" stroke-width="0.12"><tspan dy="0.00" font-size="8.40">rt (min)</tspan></text>
<line x1="67.00" y1="522.20" x2="81.00" y2="522.20" stroke="#8a8a8a" stroke-width="0.55" stroke-linecap="butt"/>
<path d="M82.60 522.20 l-2.6 -1.3 v2.6 z" fill="#8a8a8a"/>
<line x1="674.30" y1="143.90" x2="674.30" y2="327.10" stroke="#a8a8a8" stroke-width="0.90" stroke-linecap="butt"/>
<line x1="673.85" y1="143.90" x2="680.30" y2="143.90" stroke="#a8a8a8" stroke-width="0.90" stroke-linecap="butt"/>
<line x1="673.85" y1="228.00" x2="680.30" y2="228.00" stroke="#a8a8a8" stroke-width="0.90" stroke-linecap="butt"/>
<line x1="673.85" y1="327.10" x2="680.30" y2="327.10" stroke="#a8a8a8" stroke-width="0.90" stroke-linecap="butt"/>
<line x1="674.30" y1="338.60" x2="674.30" y2="518.60" stroke="#a8a8a8" stroke-width="0.90" stroke-linecap="butt"/>
<line x1="673.85" y1="338.60" x2="680.30" y2="338.60" stroke="#a8a8a8" stroke-width="0.90" stroke-linecap="butt"/>
<line x1="673.85" y1="422.60" x2="680.30" y2="422.60" stroke="#a8a8a8" stroke-width="0.90" stroke-linecap="butt"/>
<line x1="673.85" y1="518.60" x2="680.30" y2="518.60" stroke="#a8a8a8" stroke-width="0.90" stroke-linecap="butt"/>
<text transform="translate(684.30,184.50) rotate(-90)" font-size="8.2" font-weight="bold" text-anchor="middle" fill="#111">Standard</text>
<text transform="translate(684.30,277.30) rotate(-90)" font-size="8.2" font-weight="bold" text-anchor="middle" fill="#111">In-source conversion</text>
<text transform="translate(684.30,382.00) rotate(-90)" font-size="8.2" font-weight="bold" text-anchor="middle" fill="#111">Standard</text>
<text transform="translate(684.30,470.50) rotate(-90)" font-size="8.2" font-weight="bold" text-anchor="middle" fill="#111">In-source conversion</text>
<line x1="50.20" y1="69.50" x2="42.76" y2="73.41" stroke="#222" stroke-width="0.85" stroke-linecap="round"/>
<line x1="40.10" y1="78.00" x2="40.10" y2="85.90" stroke="#222" stroke-width="0.85" stroke-linecap="round"/>
<line x1="40.10" y1="85.90" x2="47.41" y2="90.18" stroke="#222" stroke-width="0.85" stroke-linecap="round"/>
<line x1="41.80" y1="84.58" x2="48.42" y2="88.46" stroke="#222" stroke-width="0.85" stroke-linecap="round"/>
<line x1="52.64" y1="90.28" x2="60.45" y2="86.10" stroke="#222" stroke-width="0.85" stroke-linecap="round"/>
<line x1="60.45" y1="86.10" x2="60.45" y2="74.80" stroke="#222" stroke-width="0.85" stroke-linecap="round"/>
<line x1="57.95" y1="85.00" x2="57.95" y2="75.90" stroke="#222" stroke-width="0.85" stroke-linecap="round"/>
<line x1="60.45" y1="74.80" x2="50.20" y2="69.50" stroke="#222" stroke-width="0.85" stroke-linecap="round"/>
<line x1="48.95" y1="68.90" x2="48.95" y2="61.20" stroke="#222" stroke-width="0.85" stroke-linecap="round"/>
<line x1="51.45" y1="68.90" x2="51.45" y2="61.20" stroke="#222" stroke-width="0.85" stroke-linecap="round"/>
<line x1="60.45" y1="74.80" x2="67.34" y2="70.57" stroke="#222" stroke-width="0.85" stroke-linecap="round"/>
<line x1="72.54" y1="70.42" x2="79.80" y2="74.30" stroke="#222" stroke-width="0.85" stroke-linecap="round"/>
<line x1="79.80" y1="74.30" x2="79.80" y2="85.90" stroke="#222" stroke-width="0.85" stroke-linecap="round"/>
<line x1="79.80" y1="85.90" x2="76.29" y2="87.89" stroke="#222" stroke-width="0.85" stroke-linecap="round"/>
<line x1="66.87" y1="90.03" x2="60.45" y2="86.10" stroke="#222" stroke-width="0.85" stroke-linecap="round"/>
<line x1="40.10" y1="85.90" x2="33.60" y2="90.00" stroke="#222" stroke-width="0.85" stroke-linecap="round"/>
<text x="50.20" y="60.08" font-size="6.90" text-anchor="middle" font-weight="normal" fill="#111"  stroke="#111" stroke-width="0.12"><tspan dy="0.00" font-size="6.90">O</tspan></text>
<text x="42.70" y="77.20" font-size="6.90" text-anchor="end" font-weight="normal" fill="#111"  stroke="#111" stroke-width="0.12"><tspan dy="0.00" font-size="6.90">HN</tspan></text>
<text x="50.00" y="94.18" font-size="6.90" text-anchor="middle" font-weight="normal" fill="#111"  stroke="#111" stroke-width="0.12"><tspan dy="0.00" font-size="6.90">N</tspan></text>
<text x="69.90" y="71.48" font-size="6.90" text-anchor="middle" font-weight="normal" fill="#111"  stroke="#111" stroke-width="0.12"><tspan dy="0.00" font-size="6.90">N</tspan></text>
<text x="67.00" y="94.10" font-size="6.90" text-anchor="start" font-weight="normal" fill="#111"  stroke="#111" stroke-width="0.12"><tspan dy="0.00" font-size="6.90">NH</tspan></text>
<text x="32.60" y="94.00" font-size="6.90" text-anchor="end" font-weight="normal" fill="#111"  stroke="#111" stroke-width="0.12"><tspan dy="0.00" font-size="6.90">H</tspan><tspan dy="2.00" font-size="4.90">2</tspan><tspan dy="-2.00" font-size="6.90">N</tspan></text>
<text x="68.00" y="58.60" font-size="6.90" text-anchor="start" font-weight="normal" fill="#111"  stroke="#111" stroke-width="0.12"><tspan dy="0.00" font-size="6.90">R</tspan><tspan dy="2.00" font-size="4.90">1</tspan></text>
<line x1="69.90" y1="65.80" x2="69.90" y2="60.60" stroke="#222" stroke-width="0.85" stroke-linecap="round"/>
<line x1="79.80" y1="74.30" x2="87.70" y2="69.50" stroke="#222" stroke-width="0.85" stroke-linecap="round"/>
<line x1="87.70" y1="69.50" x2="96.95" y2="73.37" stroke="#222" stroke-width="0.85" stroke-linecap="round"/>
<text x="99.90" y="77.08" font-size="6.90" text-anchor="middle" font-weight="normal" fill="#111"  stroke="#111" stroke-width="0.12"><tspan dy="0.00" font-size="6.90">N</tspan></text>
<text x="97.40" y="64.20" font-size="6.90" text-anchor="start" font-weight="normal" fill="#111"  stroke="#111" stroke-width="0.12"><tspan dy="0.00" font-size="6.90">R</tspan><tspan dy="2.00" font-size="4.90">2</tspan></text>
<line x1="100.40" y1="71.40" x2="100.90" y2="66.00" stroke="#222" stroke-width="0.85" stroke-linecap="round"/>
<line x1="110.50" y1="68.80" x2="110.50" y2="57.70" stroke="#222" stroke-width="0.85" stroke-linecap="round"/>
<line x1="110.50" y1="57.70" x2="120.40" y2="52.10" stroke="#222" stroke-width="0.85" stroke-linecap="round"/>
<line x1="120.40" y1="52.10" x2="130.80" y2="57.70" stroke="#222" stroke-width="0.85" stroke-linecap="round"/>
<line x1="130.80" y1="57.70" x2="130.80" y2="68.80" stroke="#222" stroke-width="0.85" stroke-linecap="round"/>
<line x1="130.80" y1="68.80" x2="120.60" y2="74.60" stroke="#222" stroke-width="0.85" stroke-linecap="round"/>
<line x1="120.60" y1="74.60" x2="110.50" y2="68.80" stroke="#222" stroke-width="0.85" stroke-linecap="round"/>
<line x1="112.80" y1="67.40" x2="112.80" y2="59.10" stroke="#222" stroke-width="0.85" stroke-linecap="round"/>
<line x1="120.59" y1="54.70" x2="128.52" y2="58.97" stroke="#222" stroke-width="0.85" stroke-linecap="round"/>
<line x1="128.50" y1="67.58" x2="120.73" y2="72.00" stroke="#222" stroke-width="0.85" stroke-linecap="round"/>
<line x1="102.62" y1="73.11" x2="110.50" y2="68.80" stroke="#222" stroke-width="0.85" stroke-linecap="round"/>
<line x1="130.80" y1="57.70" x2="139.90" y2="52.50" stroke="#222" stroke-width="0.85" stroke-linecap="round"/>
<line x1="138.80" y1="51.90" x2="138.80" y2="44.30" stroke="#222" stroke-width="0.85" stroke-linecap="round"/>
<line x1="141.00" y1="51.90" x2="141.00" y2="44.30" stroke="#222" stroke-width="0.85" stroke-linecap="round"/>
<text x="139.90" y="43.28" font-size="6.90" text-anchor="middle" font-weight="normal" fill="#111"  stroke="#111" stroke-width="0.12"><tspan dy="0.00" font-size="6.90">O</tspan></text>
<line x1="139.90" y1="52.50" x2="146.80" y2="56.40" stroke="#222" stroke-width="0.85" stroke-linecap="round"/>
<text x="147.60" y="60.00" font-size="6.90" text-anchor="start" font-weight="normal" fill="#111"  stroke="#111" stroke-width="0.12"><tspan dy="0.00" font-size="6.90">NH</tspan></text>
<line x1="157.40" y1="55.20" x2="160.10" y2="52.20" stroke="#222" stroke-width="0.85" stroke-linecap="round"/>
<line x1="160.10" y1="52.20" x2="160.10" y2="40.20" stroke="#222" stroke-width="0.85" stroke-linecap="round"/>
<line x1="159.28" y1="40.99" x2="152.99" y2="37.28" stroke="#222" stroke-width="0.85" stroke-linecap="round"/>
<line x1="160.40" y1="39.10" x2="154.11" y2="35.38" stroke="#222" stroke-width="0.85" stroke-linecap="round"/>
<text x="150.80" y="37.18" font-size="6.90" text-anchor="middle" font-weight="normal" fill="#111"  stroke="#111" stroke-width="0.12"><tspan dy="0.00" font-size="6.90">O</tspan></text>
<line x1="160.10" y1="40.20" x2="166.40" y2="36.60" stroke="#222" stroke-width="0.85" stroke-linecap="round"/>
<text x="167.30" y="37.20" font-size="6.90" text-anchor="start" font-weight="normal" fill="#111"  stroke="#111" stroke-width="0.12"><tspan dy="0.00" font-size="6.90">OH</tspan></text>
<line x1="160.10" y1="52.20" x2="170.00" y2="57.70" stroke="#222" stroke-width="0.85" stroke-linecap="round"/>
<line x1="170.00" y1="57.70" x2="180.00" y2="52.20" stroke="#222" stroke-width="0.85" stroke-linecap="round"/>
<line x1="180.00" y1="52.20" x2="189.90" y2="57.40" stroke="#222" stroke-width="0.85" stroke-linecap="round"/>
<line x1="191.00" y1="58.20" x2="191.00" y2="65.80" stroke="#222" stroke-width="0.85" stroke-linecap="round"/>
<line x1="188.80" y1="58.20" x2="188.80" y2="65.80" stroke="#222" stroke-width="0.85" stroke-linecap="round"/>
<text x="189.90" y="71.78" font-size="6.90" text-anchor="middle" font-weight="normal" fill="#111"  stroke="#111" stroke-width="0.12"><tspan dy="0.00" font-size="6.90">O</tspan></text>
<line x1="189.90" y1="57.40" x2="196.20" y2="53.90" stroke="#222" stroke-width="0.85" stroke-linecap="round"/>
<text x="197.20" y="54.50" font-size="6.90" text-anchor="start" font-weight="normal" fill="#111"  stroke="#111" stroke-width="0.12"><tspan dy="0.00" font-size="6.90">OH</tspan></text>
<path d="M152.5 26.3H146.7V76.6H152.5" fill="none" stroke="#222" stroke-width="0.8"/>
<path d="M188.9 26.3H194.6V76.6H188.9" fill="none" stroke="#222" stroke-width="0.8"/>
<text x="196.90" y="77.20" font-size="6.90" text-anchor="start" font-weight="normal" fill="#111"  stroke="#111" stroke-width="0.12"><tspan dy="0.00" font-size="6.90">n ≥ 1</tspan></text>
<line x1="144.40" y1="9.90" x2="144.40" y2="63.60" stroke="#222" stroke-width="1.40" stroke-linecap="butt" stroke-dasharray="2.7 0.85"/>
<line x1="137.50" y1="9.90" x2="144.60" y2="9.90" stroke="#222" stroke-width="0.65" stroke-linecap="butt"/>
<path d="M130.60 9.90 L138.00 8.00 L138.00 11.80 Z" fill="#111"/>
<text x="122.20" y="10.90" font-size="6.90" text-anchor="start" font-weight="normal" fill="#111"  stroke="#111" stroke-width="0.12"><tspan dy="0.00" font-size="6.90">F</tspan><tspan dy="2.00" font-size="4.90">1</tspan></text>
<line x1="134.40" y1="20.80" x2="134.40" y2="62.40" stroke="#222" stroke-width="1.00" stroke-linecap="butt" stroke-dasharray="2.7 0.85"/>
<line x1="127.90" y1="20.80" x2="134.60" y2="20.80" stroke="#222" stroke-width="0.65" stroke-linecap="butt"/>
<path d="M121.00 20.80 L128.40 18.90 L128.40 22.70 Z" fill="#111"/>
<text x="112.60" y="22.60" font-size="6.90" text-anchor="start" font-weight="normal" fill="#111"  stroke="#111" stroke-width="0.12"><tspan dy="0.00" font-size="6.90">F</tspan><tspan dy="2.00" font-size="4.90">2</tspan></text>
<line x1="108.40" y1="34.90" x2="108.40" y2="75.80" stroke="#222" stroke-width="0.90" stroke-linecap="butt" stroke-dasharray="2.7 0.85"/>
<line x1="104.20" y1="34.90" x2="108.60" y2="34.90" stroke="#222" stroke-width="0.65" stroke-linecap="butt"/>
<path d="M97.30 34.90 L104.70 33.00 L104.70 36.80 Z" fill="#111"/>
<text x="87.90" y="36.70" font-size="6.90" text-anchor="start" font-weight="normal" fill="#111"  stroke="#111" stroke-width="0.12"><tspan dy="0.00" font-size="6.90">F</tspan><tspan dy="2.00" font-size="4.90">3</tspan></text>
<line x1="94.10" y1="66.00" x2="94.10" y2="119.10" stroke="#222" stroke-width="1.30" stroke-linecap="butt" stroke-dasharray="2.7 0.85"/>
<line x1="89.00" y1="119.10" x2="94.30" y2="119.10" stroke="#222" stroke-width="0.65" stroke-linecap="butt"/>
<path d="M82.10 119.10 L89.50 117.20 L89.50 121.00 Z" fill="#111"/>
<text x="74.00" y="121.10" font-size="6.90" text-anchor="start" font-weight="normal" fill="#111"  stroke="#111" stroke-width="0.12"><tspan dy="0.00" font-size="6.90">F</tspan><tspan dy="2.00" font-size="4.90">4</tspan></text>
<line x1="86.80" y1="64.00" x2="86.80" y2="108.40" stroke="#222" stroke-width="0.90" stroke-linecap="butt" stroke-dasharray="2.7 0.85"/>
<line x1="82.70" y1="108.40" x2="87.00" y2="108.40" stroke="#222" stroke-width="0.65" stroke-linecap="butt"/>
<path d="M75.80 108.40 L83.20 106.50 L83.20 110.30 Z" fill="#111"/>
<text x="67.80" y="110.60" font-size="6.90" text-anchor="start" font-weight="normal" fill="#111"  stroke="#111" stroke-width="0.12"><tspan dy="0.00" font-size="6.90">F</tspan><tspan dy="2.00" font-size="4.90">5</tspan></text>
<path d="M143.60 92.40 Q144.00 95.00 146.80 95.00 H169.80 Q172.70 95.00 173.00 97.60 Q173.30 95.00 176.20 95.00 H199.30 Q202.10 95.00 202.50 92.40" fill="none" stroke="#222" stroke-width="0.8"/>
<path d="M100.40 111.60 Q100.80 115.00 104.40 115.00 H147.40 Q151.10 115.00 151.40 118.40 Q151.70 115.00 155.40 115.00 H198.50 Q202.10 115.00 202.50 111.60" fill="none" stroke="#222" stroke-width="0.8"/>
<text x="167.00" y="106.40" font-size="6.90" text-anchor="start" font-weight="normal" fill="#111"  stroke="#111" stroke-width="0.12"><tspan dy="0.00" font-size="6.90">Glu</tspan><tspan dy="2.00" font-size="4.40">n</tspan></text>
<text x="140.2" y="129.4" font-size="6.90" fill="#111" stroke="#111" stroke-width="0.12"><tspan font-style="italic">p</tspan>ABGlu<tspan dy="1.5" font-size="4.4">n</tspan></text>
</svg>
</body></html>
